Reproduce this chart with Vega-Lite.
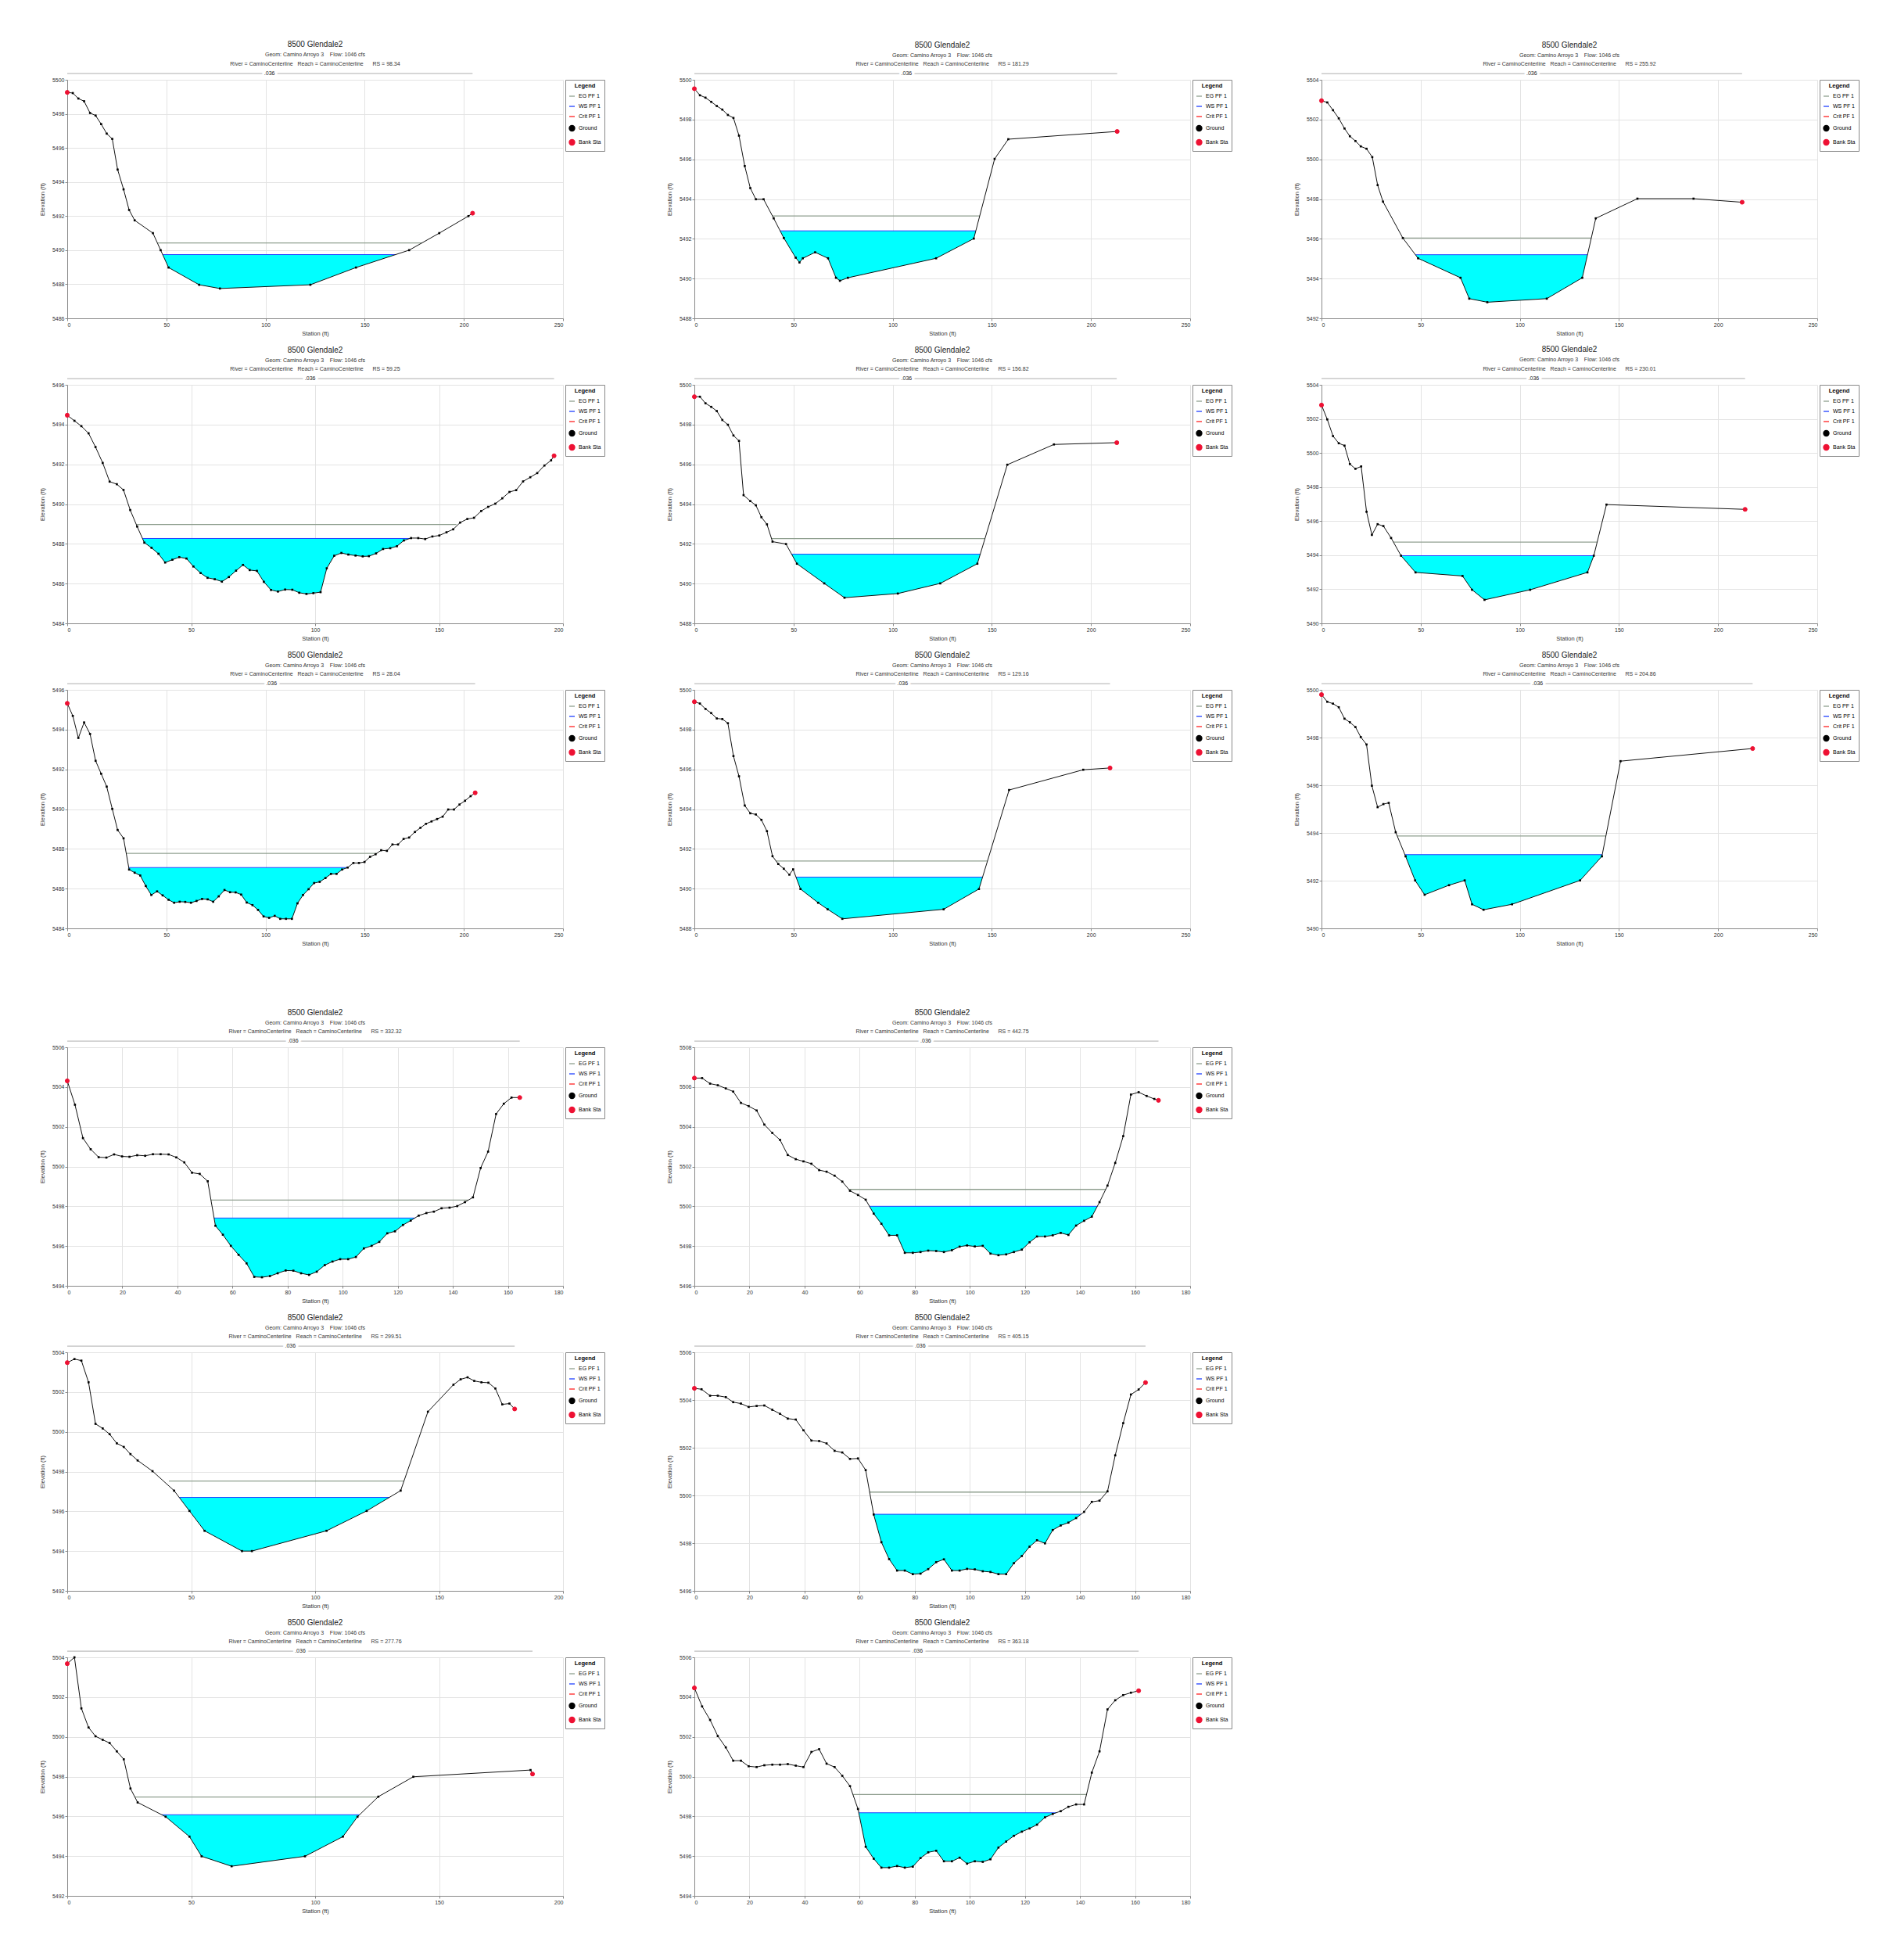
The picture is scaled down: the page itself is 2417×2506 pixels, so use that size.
{
"$schema": "https://vega.github.io/schema/vega-lite/v6.json",
"background": "white",
"padding": {"left": 50, "top": 52, "right": 5, "bottom": 5},
"config": {
 "font": "Liberation Sans",
 "view": {"stroke": null},
 "title": {"fontSize": 10, "fontWeight": "normal", "color": "#222", "subtitleFontSize": 7, "subtitleColor": "#333", "subtitleLineHeight": 11.5, "subtitlePadding": 4, "anchor": "middle", "frame": "group", "offset": 5},
 "axis": {"labelFontSize": 7, "titleFontSize": 7.5, "titleFontWeight": "normal", "labelColor": "#333", "titleColor": "#333", "domainColor": "#888", "tickColor": "#888", "tickSize": 3, "gridColor": "#e3e3e3", "labelPadding": 1, "titlePadding": 4},
 "axisY": {"titlePadding": 8},
 "legend": {"orient": "right", "offset": 3, "padding": 4, "strokeColor": "#888", "fillColor": "white", "titleFontSize": 7.5, "titleFontWeight": "bold", "labelFontSize": 7, "rowPadding": 5, "titleAnchor": "middle", "symbolSize": 50, "symbolStrokeWidth": 1.3}
},
"datasets": {
"g": [
{"p":"A","x":0,"y":5499.26},{"p":"A","x":2.8,"y":5499.22},{"p":"A","x":5.6,"y":5498.9},{"p":"A","x":8.5,"y":5498.74},{"p":"A","x":11.5,"y":5498.05},{"p":"A","x":14.3,"y":5497.9},{"p":"A","x":17.1,"y":5497.4},{"p":"A","x":19.9,"y":5496.84},{"p":"A","x":22.7,"y":5496.53},{"p":"A","x":25.4,"y":5494.73},{"p":"A","x":28.4,"y":5493.57},{"p":"A","x":31.2,"y":5492.36},{"p":"A","x":34,"y":5491.75},{"p":"A","x":43.2,"y":5491},{"p":"A","x":47.1,"y":5490},{"p":"A","x":51.1,"y":5488.98},{"p":"A","x":66.5,"y":5487.97},{"p":"A","x":77,"y":5487.75},{"p":"A","x":122.6,"y":5487.97},{"p":"A","x":145.6,"y":5488.98},{"p":"A","x":172.4,"y":5490},{"p":"A","x":187.6,"y":5491},{"p":"A","x":202.3,"y":5492},{"p":"A","x":204.4,"y":5492.17},
{"p":"B","x":0,"y":5494.47},{"p":"B","x":2.9,"y":5494.19},{"p":"B","x":5.7,"y":5493.92},{"p":"B","x":8.6,"y":5493.56},{"p":"B","x":11.4,"y":5492.87},{"p":"B","x":14.3,"y":5492.07},{"p":"B","x":17.1,"y":5491.13},{"p":"B","x":20,"y":5491},{"p":"B","x":22.7,"y":5490.71},{"p":"B","x":25.4,"y":5489.7},{"p":"B","x":28.2,"y":5488.87},{"p":"B","x":31.1,"y":5488.06},{"p":"B","x":34,"y":5487.8},{"p":"B","x":36.8,"y":5487.5},{"p":"B","x":39.5,"y":5487.06},{"p":"B","x":42.4,"y":5487.2},{"p":"B","x":45.2,"y":5487.33},{"p":"B","x":48.1,"y":5487.26},{"p":"B","x":50.9,"y":5486.86},{"p":"B","x":53.8,"y":5486.53},{"p":"B","x":56.6,"y":5486.29},{"p":"B","x":59.5,"y":5486.22},{"p":"B","x":62.4,"y":5486.1},{"p":"B","x":65.2,"y":5486.33},{"p":"B","x":68.1,"y":5486.65},{"p":"B","x":70.9,"y":5486.94},{"p":"B","x":73.6,"y":5486.68},{"p":"B","x":76.5,"y":5486.64},{"p":"B","x":79.3,"y":5486.09},{"p":"B","x":82.2,"y":5485.68},{"p":"B","x":85,"y":5485.6},{"p":"B","x":87.9,"y":5485.7},{"p":"B","x":90.8,"y":5485.69},{"p":"B","x":93.6,"y":5485.54},{"p":"B","x":96.5,"y":5485.48},{"p":"B","x":99.3,"y":5485.52},{"p":"B","x":102.2,"y":5485.57},{"p":"B","x":104.7,"y":5486.77},{"p":"B","x":107.7,"y":5487.4},{"p":"B","x":110.6,"y":5487.54},{"p":"B","x":113.4,"y":5487.46},{"p":"B","x":116.3,"y":5487.41},{"p":"B","x":119.2,"y":5487.37},{"p":"B","x":121.7,"y":5487.38},{"p":"B","x":124.6,"y":5487.52},{"p":"B","x":127.4,"y":5487.74},{"p":"B","x":130.3,"y":5487.78},{"p":"B","x":133,"y":5487.88},{"p":"B","x":135.8,"y":5488.17},{"p":"B","x":138.7,"y":5488.29},{"p":"B","x":141.6,"y":5488.29},{"p":"B","x":144.4,"y":5488.24},{"p":"B","x":147.3,"y":5488.37},{"p":"B","x":150.1,"y":5488.42},{"p":"B","x":153,"y":5488.58},{"p":"B","x":155.7,"y":5488.73},{"p":"B","x":158.5,"y":5489.07},{"p":"B","x":161.4,"y":5489.25},{"p":"B","x":164.1,"y":5489.31},{"p":"B","x":167,"y":5489.65},{"p":"B","x":169.8,"y":5489.86},{"p":"B","x":172.7,"y":5490.02},{"p":"B","x":175.5,"y":5490.29},{"p":"B","x":178.4,"y":5490.61},{"p":"B","x":181.1,"y":5490.7},{"p":"B","x":183.9,"y":5491.14},{"p":"B","x":186.8,"y":5491.35},{"p":"B","x":189.6,"y":5491.56},{"p":"B","x":192.5,"y":5491.94},{"p":"B","x":195.2,"y":5492.2},{"p":"B","x":196.4,"y":5492.43},
{"p":"C","x":0,"y":5495.32},{"p":"C","x":2.8,"y":5494.69},{"p":"C","x":5.6,"y":5493.58},{"p":"C","x":8.5,"y":5494.36},{"p":"C","x":11.5,"y":5493.78},{"p":"C","x":14.3,"y":5492.43},{"p":"C","x":17.1,"y":5491.78},{"p":"C","x":19.9,"y":5491.13},{"p":"C","x":22.7,"y":5490.01},{"p":"C","x":25.4,"y":5488.95},{"p":"C","x":28.4,"y":5488.53},{"p":"C","x":31.2,"y":5486.96},{"p":"C","x":34,"y":5486.8},{"p":"C","x":36.8,"y":5486.66},{"p":"C","x":39.6,"y":5486.13},{"p":"C","x":42.4,"y":5485.68},{"p":"C","x":45.3,"y":5485.86},{"p":"C","x":48.1,"y":5485.66},{"p":"C","x":51.1,"y":5485.44},{"p":"C","x":53.9,"y":5485.29},{"p":"C","x":56.7,"y":5485.34},{"p":"C","x":59.5,"y":5485.33},{"p":"C","x":62.4,"y":5485.29},{"p":"C","x":65.2,"y":5485.38},{"p":"C","x":68,"y":5485.48},{"p":"C","x":70.8,"y":5485.46},{"p":"C","x":73.6,"y":5485.34},{"p":"C","x":76.4,"y":5485.61},{"p":"C","x":79.3,"y":5485.93},{"p":"C","x":82.1,"y":5485.82},{"p":"C","x":84.9,"y":5485.81},{"p":"C","x":87.7,"y":5485.7},{"p":"C","x":90.5,"y":5485.3},{"p":"C","x":93.4,"y":5485.17},{"p":"C","x":96.2,"y":5484.93},{"p":"C","x":99,"y":5484.6},{"p":"C","x":101.8,"y":5484.53},{"p":"C","x":104.6,"y":5484.63},{"p":"C","x":107.4,"y":5484.48},{"p":"C","x":110.3,"y":5484.48},{"p":"C","x":113.3,"y":5484.48},{"p":"C","x":116.1,"y":5485.26},{"p":"C","x":118.9,"y":5485.68},{"p":"C","x":121.7,"y":5485.97},{"p":"C","x":124.5,"y":5486.28},{"p":"C","x":127.3,"y":5486.34},{"p":"C","x":130.2,"y":5486.53},{"p":"C","x":133,"y":5486.74},{"p":"C","x":135.8,"y":5486.74},{"p":"C","x":138.6,"y":5486.96},{"p":"C","x":141.4,"y":5487.06},{"p":"C","x":144.3,"y":5487.29},{"p":"C","x":147.1,"y":5487.29},{"p":"C","x":149.9,"y":5487.34},{"p":"C","x":152.7,"y":5487.6},{"p":"C","x":155.5,"y":5487.73},{"p":"C","x":158.3,"y":5487.93},{"p":"C","x":161.2,"y":5487.9},{"p":"C","x":164,"y":5488.22},{"p":"C","x":166.8,"y":5488.22},{"p":"C","x":169.6,"y":5488.5},{"p":"C","x":172.4,"y":5488.57},{"p":"C","x":175.3,"y":5488.85},{"p":"C","x":178.1,"y":5489.06},{"p":"C","x":180.9,"y":5489.26},{"p":"C","x":183.7,"y":5489.38},{"p":"C","x":186.5,"y":5489.5},{"p":"C","x":189.3,"y":5489.62},{"p":"C","x":192.1,"y":5489.98},{"p":"C","x":195,"y":5489.98},{"p":"C","x":197.8,"y":5490.23},{"p":"C","x":200.6,"y":5490.42},{"p":"C","x":203.4,"y":5490.65},{"p":"C","x":205.7,"y":5490.82},
{"p":"D","x":0,"y":5499.55},{"p":"D","x":2.8,"y":5499.22},{"p":"D","x":5.6,"y":5499.1},{"p":"D","x":8.5,"y":5498.89},{"p":"D","x":11.3,"y":5498.68},{"p":"D","x":14.1,"y":5498.5},{"p":"D","x":16.9,"y":5498.23},{"p":"D","x":19.7,"y":5498.08},{"p":"D","x":22.5,"y":5497.19},{"p":"D","x":25.4,"y":5495.66},{"p":"D","x":28.2,"y":5494.55},{"p":"D","x":31,"y":5493.99},{"p":"D","x":34.9,"y":5493.99},{"p":"D","x":40,"y":5493.03},{"p":"D","x":45.1,"y":5492.04},{"p":"D","x":51.1,"y":5491.05},{"p":"D","x":53,"y":5490.81},{"p":"D","x":54.7,"y":5491.02},{"p":"D","x":60.9,"y":5491.32},{"p":"D","x":67.4,"y":5491.02},{"p":"D","x":71.4,"y":5490.04},{"p":"D","x":73.4,"y":5489.89},{"p":"D","x":77.4,"y":5490.04},{"p":"D","x":121.9,"y":5491.02},{"p":"D","x":140.9,"y":5492.01},{"p":"D","x":151.4,"y":5496.02},{"p":"D","x":158.3,"y":5497.01},{"p":"D","x":213.2,"y":5497.4},
{"p":"E","x":0,"y":5499.4},{"p":"E","x":2.8,"y":5499.4},{"p":"E","x":5.6,"y":5499.07},{"p":"E","x":8.5,"y":5498.89},{"p":"E","x":11.3,"y":5498.68},{"p":"E","x":14.1,"y":5498.23},{"p":"E","x":16.9,"y":5497.99},{"p":"E","x":19.7,"y":5497.45},{"p":"E","x":22.5,"y":5497.18},{"p":"E","x":24.8,"y":5494.45},{"p":"E","x":28.2,"y":5494.15},{"p":"E","x":31,"y":5493.94},{"p":"E","x":33.8,"y":5493.34},{"p":"E","x":36.6,"y":5492.98},{"p":"E","x":39.4,"y":5492.11},{"p":"E","x":46.2,"y":5491.99},{"p":"E","x":51.7,"y":5491},{"p":"E","x":65.5,"y":5490.01},{"p":"E","x":75.7,"y":5489.29},{"p":"E","x":102.6,"y":5489.5},{"p":"E","x":124,"y":5490.01},{"p":"E","x":142.7,"y":5491},{"p":"E","x":157.8,"y":5495.98},{"p":"E","x":181.3,"y":5497},{"p":"E","x":213,"y":5497.09},
{"p":"F","x":0,"y":5499.4},{"p":"F","x":2.8,"y":5499.31},{"p":"F","x":5.6,"y":5499.04},{"p":"F","x":8.5,"y":5498.83},{"p":"F","x":11.3,"y":5498.56},{"p":"F","x":14.1,"y":5498.53},{"p":"F","x":16.9,"y":5498.32},{"p":"F","x":19.7,"y":5496.67},{"p":"F","x":22.5,"y":5495.65},{"p":"F","x":25.4,"y":5494.18},{"p":"F","x":28.2,"y":5493.79},{"p":"F","x":31,"y":5493.73},{"p":"F","x":33.8,"y":5493.46},{"p":"F","x":36.6,"y":5492.89},{"p":"F","x":39.4,"y":5491.63},{"p":"F","x":42.3,"y":5491.24},{"p":"F","x":45.1,"y":5491},{"p":"F","x":47.9,"y":5490.7},{"p":"F","x":49.8,"y":5490.97},{"p":"F","x":53.5,"y":5489.98},{"p":"F","x":62.4,"y":5489.29},{"p":"F","x":67.2,"y":5488.96},{"p":"F","x":74.6,"y":5488.48},{"p":"F","x":125.7,"y":5488.96},{"p":"F","x":143.5,"y":5489.98},{"p":"F","x":158.7,"y":5494.96},{"p":"F","x":196.1,"y":5495.98},{"p":"F","x":209.6,"y":5496.07},
{"p":"G","x":0,"y":5502.95},{"p":"G","x":2.9,"y":5502.86},{"p":"G","x":5.8,"y":5502.47},{"p":"G","x":8.7,"y":5502.06},{"p":"G","x":11.6,"y":5501.55},{"p":"G","x":14.3,"y":5501.16},{"p":"G","x":17.1,"y":5500.92},{"p":"G","x":19.8,"y":5500.65},{"p":"G","x":22.7,"y":5500.53},{"p":"G","x":25.6,"y":5500.11},{"p":"G","x":28.3,"y":5498.7},{"p":"G","x":31,"y":5497.87},{"p":"G","x":41,"y":5496.04},{"p":"G","x":48.7,"y":5495.02},{"p":"G","x":70.1,"y":5494.04},{"p":"G","x":74.5,"y":5492.99},{"p":"G","x":83.6,"y":5492.81},{"p":"G","x":113.6,"y":5492.99},{"p":"G","x":131.5,"y":5494.04},{"p":"G","x":138.3,"y":5497.03},{"p":"G","x":159.3,"y":5498.02},{"p":"G","x":187.6,"y":5498.02},{"p":"G","x":212.1,"y":5497.84},
{"p":"H","x":0,"y":5502.81},{"p":"H","x":2.9,"y":5501.97},{"p":"H","x":5.8,"y":5500.99},{"p":"H","x":8.7,"y":5500.57},{"p":"H","x":11.6,"y":5500.43},{"p":"H","x":14.3,"y":5499.35},{"p":"H","x":17.1,"y":5499.07},{"p":"H","x":20,"y":5499.21},{"p":"H","x":22.7,"y":5496.55},{"p":"H","x":25.4,"y":5495.19},{"p":"H","x":28.3,"y":5495.82},{"p":"H","x":31.2,"y":5495.71},{"p":"H","x":35.1,"y":5495.01},{"p":"H","x":40.1,"y":5493.97},{"p":"H","x":47.4,"y":5492.99},{"p":"H","x":71.1,"y":5492.78},{"p":"H","x":75.9,"y":5491.97},{"p":"H","x":82.2,"y":5491.38},{"p":"H","x":105.2,"y":5491.97},{"p":"H","x":134.1,"y":5492.99},{"p":"H","x":137.3,"y":5493.97},{"p":"H","x":143.7,"y":5496.97},{"p":"H","x":213.6,"y":5496.69},
{"p":"I","x":0,"y":5499.8},{"p":"I","x":2.9,"y":5499.5},{"p":"I","x":5.8,"y":5499.42},{"p":"I","x":8.7,"y":5499.27},{"p":"I","x":11.6,"y":5498.79},{"p":"I","x":14.3,"y":5498.64},{"p":"I","x":17.1,"y":5498.44},{"p":"I","x":19.8,"y":5498.02},{"p":"I","x":22.7,"y":5497.71},{"p":"I","x":25.4,"y":5495.98},{"p":"I","x":28.3,"y":5495.08},{"p":"I","x":31.2,"y":5495.21},{"p":"I","x":33.9,"y":5495.26},{"p":"I","x":37.4,"y":5494.03},{"p":"I","x":42.4,"y":5493.02},{"p":"I","x":47.2,"y":5492.01},{"p":"I","x":52,"y":5491.41},{"p":"I","x":64.3,"y":5491.81},{"p":"I","x":72.2,"y":5492.01},{"p":"I","x":75.9,"y":5491.01},{"p":"I","x":81.7,"y":5490.78},{"p":"I","x":96.1,"y":5491.01},{"p":"I","x":130.4,"y":5492.01},{"p":"I","x":141.4,"y":5493.02},{"p":"I","x":150.8,"y":5497.01},{"p":"I","x":217.4,"y":5497.54},
{"p":"J","x":0,"y":5504.31},{"p":"J","x":2.8,"y":5503.11},{"p":"J","x":5.7,"y":5501.43},{"p":"J","x":8.5,"y":5500.87},{"p":"J","x":11.4,"y":5500.47},{"p":"J","x":14.2,"y":5500.45},{"p":"J","x":17,"y":5500.61},{"p":"J","x":19.9,"y":5500.51},{"p":"J","x":22.6,"y":5500.49},{"p":"J","x":25.4,"y":5500.57},{"p":"J","x":28.3,"y":5500.54},{"p":"J","x":31.1,"y":5500.62},{"p":"J","x":33.9,"y":5500.62},{"p":"J","x":36.8,"y":5500.61},{"p":"J","x":39.6,"y":5500.46},{"p":"J","x":42.5,"y":5500.21},{"p":"J","x":45.3,"y":5499.69},{"p":"J","x":48.1,"y":5499.63},{"p":"J","x":51,"y":5499.26},{"p":"J","x":53.8,"y":5497.02},{"p":"J","x":56.5,"y":5496.57},{"p":"J","x":59.4,"y":5496.01},{"p":"J","x":62.2,"y":5495.56},{"p":"J","x":65.1,"y":5495.13},{"p":"J","x":67.9,"y":5494.45},{"p":"J","x":70.7,"y":5494.43},{"p":"J","x":73.6,"y":5494.49},{"p":"J","x":76.4,"y":5494.63},{"p":"J","x":79.3,"y":5494.77},{"p":"J","x":82.1,"y":5494.76},{"p":"J","x":84.9,"y":5494.63},{"p":"J","x":87.8,"y":5494.55},{"p":"J","x":90.6,"y":5494.71},{"p":"J","x":93.5,"y":5495.04},{"p":"J","x":96.3,"y":5495.22},{"p":"J","x":99.1,"y":5495.34},{"p":"J","x":102,"y":5495.34},{"p":"J","x":104.8,"y":5495.45},{"p":"J","x":107.7,"y":5495.88},{"p":"J","x":110.5,"y":5496.01},{"p":"J","x":113.3,"y":5496.21},{"p":"J","x":116.2,"y":5496.64},{"p":"J","x":119,"y":5496.74},{"p":"J","x":121.9,"y":5497.06},{"p":"J","x":124.7,"y":5497.28},{"p":"J","x":127.6,"y":5497.53},{"p":"J","x":130.4,"y":5497.66},{"p":"J","x":133.1,"y":5497.73},{"p":"J","x":135.9,"y":5497.9},{"p":"J","x":138.8,"y":5497.93},{"p":"J","x":141.6,"y":5498.01},{"p":"J","x":144.4,"y":5498.21},{"p":"J","x":147.3,"y":5498.45},{"p":"J","x":150.1,"y":5499.93},{"p":"J","x":152.8,"y":5500.75},{"p":"J","x":155.7,"y":5502.64},{"p":"J","x":158.5,"y":5503.16},{"p":"J","x":161.3,"y":5503.47},{"p":"J","x":164.3,"y":5503.47},
{"p":"K","x":0,"y":5503.48},{"p":"K","x":2.9,"y":5503.66},{"p":"K","x":5.7,"y":5503.58},{"p":"K","x":8.6,"y":5502.49},{"p":"K","x":11.4,"y":5500.4},{"p":"K","x":14.3,"y":5500.17},{"p":"K","x":17.1,"y":5499.88},{"p":"K","x":20,"y":5499.42},{"p":"K","x":22.8,"y":5499.24},{"p":"K","x":25.5,"y":5498.88},{"p":"K","x":28.4,"y":5498.56},{"p":"K","x":34.4,"y":5498.02},{"p":"K","x":43.1,"y":5497.04},{"p":"K","x":49.3,"y":5496.02},{"p":"K","x":55.4,"y":5495.02},{"p":"K","x":70.5,"y":5494},{"p":"K","x":74.5,"y":5494},{"p":"K","x":104.6,"y":5495.02},{"p":"K","x":120.8,"y":5496.02},{"p":"K","x":134.5,"y":5497.04},{"p":"K","x":145.5,"y":5501.01},{"p":"K","x":155.8,"y":5502.37},{"p":"K","x":158.7,"y":5502.64},{"p":"K","x":161.5,"y":5502.74},{"p":"K","x":164.2,"y":5502.56},{"p":"K","x":167.1,"y":5502.49},{"p":"K","x":169.9,"y":5502.47},{"p":"K","x":172.7,"y":5502.18},{"p":"K","x":175.5,"y":5501.38},{"p":"K","x":178.4,"y":5501.42},{"p":"K","x":180.5,"y":5501.15},
{"p":"L","x":0,"y":5503.68},{"p":"L","x":2.9,"y":5504},{"p":"L","x":5.7,"y":5501.43},{"p":"L","x":8.6,"y":5500.47},{"p":"L","x":11.4,"y":5500.03},{"p":"L","x":14.3,"y":5499.85},{"p":"L","x":17.1,"y":5499.69},{"p":"L","x":20,"y":5499.27},{"p":"L","x":22.8,"y":5498.87},{"p":"L","x":25.5,"y":5497.4},{"p":"L","x":28.4,"y":5496.7},{"p":"L","x":39.7,"y":5495.98},{"p":"L","x":49.3,"y":5494.98},{"p":"L","x":54.2,"y":5493.99},{"p":"L","x":66.3,"y":5493.49},{"p":"L","x":95.9,"y":5493.99},{"p":"L","x":111.2,"y":5494.98},{"p":"L","x":117.1,"y":5495.98},{"p":"L","x":125.5,"y":5496.99},{"p":"L","x":139.6,"y":5497.99},{"p":"L","x":186.9,"y":5498.33},{"p":"L","x":187.7,"y":5498.13},
{"p":"M","x":0,"y":5506.45},{"p":"M","x":2.8,"y":5506.45},{"p":"M","x":5.7,"y":5506.17},{"p":"M","x":8.5,"y":5506.09},{"p":"M","x":11.4,"y":5505.93},{"p":"M","x":14.1,"y":5505.77},{"p":"M","x":16.9,"y":5505.2},{"p":"M","x":19.7,"y":5505.04},{"p":"M","x":22.6,"y":5504.82},{"p":"M","x":25.4,"y":5504.11},{"p":"M","x":28.3,"y":5503.69},{"p":"M","x":31.1,"y":5503.34},{"p":"M","x":33.9,"y":5502.58},{"p":"M","x":36.8,"y":5502.37},{"p":"M","x":39.6,"y":5502.26},{"p":"M","x":42.5,"y":5502.14},{"p":"M","x":45.3,"y":5501.82},{"p":"M","x":48,"y":5501.74},{"p":"M","x":50.9,"y":5501.54},{"p":"M","x":53.7,"y":5501.24},{"p":"M","x":56.5,"y":5500.78},{"p":"M","x":59.4,"y":5500.57},{"p":"M","x":62.2,"y":5500.33},{"p":"M","x":65.1,"y":5499.63},{"p":"M","x":67.9,"y":5499.12},{"p":"M","x":70.7,"y":5498.54},{"p":"M","x":73.6,"y":5498.54},{"p":"M","x":76.4,"y":5497.66},{"p":"M","x":79.3,"y":5497.66},{"p":"M","x":82.1,"y":5497.7},{"p":"M","x":84.9,"y":5497.77},{"p":"M","x":87.8,"y":5497.75},{"p":"M","x":90.6,"y":5497.7},{"p":"M","x":93.5,"y":5497.79},{"p":"M","x":96.3,"y":5497.97},{"p":"M","x":99,"y":5498.03},{"p":"M","x":101.8,"y":5497.98},{"p":"M","x":104.7,"y":5498.01},{"p":"M","x":107.5,"y":5497.62},{"p":"M","x":110.4,"y":5497.54},{"p":"M","x":113.2,"y":5497.58},{"p":"M","x":116,"y":5497.7},{"p":"M","x":118.9,"y":5497.82},{"p":"M","x":121.7,"y":5498.19},{"p":"M","x":124.4,"y":5498.48},{"p":"M","x":127.3,"y":5498.48},{"p":"M","x":130.1,"y":5498.54},{"p":"M","x":133,"y":5498.66},{"p":"M","x":135.8,"y":5498.56},{"p":"M","x":138.6,"y":5499.03},{"p":"M","x":141.5,"y":5499.27},{"p":"M","x":144.3,"y":5499.48},{"p":"M","x":147.1,"y":5500.21},{"p":"M","x":150,"y":5501.04},{"p":"M","x":152.8,"y":5502.18},{"p":"M","x":155.7,"y":5503.53},{"p":"M","x":158.5,"y":5505.62},{"p":"M","x":161.3,"y":5505.74},{"p":"M","x":164.2,"y":5505.55},{"p":"M","x":167,"y":5505.4},{"p":"M","x":168.5,"y":5505.33},
{"p":"N","x":0,"y":5504.49},{"p":"N","x":2.6,"y":5504.45},{"p":"N","x":5.7,"y":5504.18},{"p":"N","x":8.5,"y":5504.18},{"p":"N","x":11.4,"y":5504.12},{"p":"N","x":14.1,"y":5503.91},{"p":"N","x":16.9,"y":5503.85},{"p":"N","x":19.7,"y":5503.71},{"p":"N","x":22.6,"y":5503.75},{"p":"N","x":25.4,"y":5503.77},{"p":"N","x":28.3,"y":5503.59},{"p":"N","x":31.1,"y":5503.42},{"p":"N","x":33.9,"y":5503.22},{"p":"N","x":36.8,"y":5503.18},{"p":"N","x":39.6,"y":5502.73},{"p":"N","x":42.5,"y":5502.3},{"p":"N","x":45.3,"y":5502.28},{"p":"N","x":48,"y":5502.18},{"p":"N","x":50.9,"y":5501.87},{"p":"N","x":53.7,"y":5501.8},{"p":"N","x":56.5,"y":5501.53},{"p":"N","x":59.4,"y":5501.55},{"p":"N","x":62.2,"y":5501.06},{"p":"N","x":65.1,"y":5499.2},{"p":"N","x":67.9,"y":5498.04},{"p":"N","x":70.7,"y":5497.33},{"p":"N","x":73.6,"y":5496.85},{"p":"N","x":76.4,"y":5496.85},{"p":"N","x":79.3,"y":5496.7},{"p":"N","x":82.1,"y":5496.72},{"p":"N","x":84.9,"y":5496.91},{"p":"N","x":87.8,"y":5497.2},{"p":"N","x":90.6,"y":5497.32},{"p":"N","x":93.5,"y":5496.85},{"p":"N","x":96.3,"y":5496.85},{"p":"N","x":99,"y":5496.92},{"p":"N","x":101.8,"y":5496.9},{"p":"N","x":104.7,"y":5496.82},{"p":"N","x":107.5,"y":5496.79},{"p":"N","x":110.4,"y":5496.7},{"p":"N","x":113.2,"y":5496.7},{"p":"N","x":116,"y":5497.16},{"p":"N","x":118.9,"y":5497.46},{"p":"N","x":121.7,"y":5497.85},{"p":"N","x":124.4,"y":5498.12},{"p":"N","x":127.3,"y":5497.99},{"p":"N","x":130.1,"y":5498.55},{"p":"N","x":133,"y":5498.74},{"p":"N","x":135.8,"y":5498.86},{"p":"N","x":138.6,"y":5499.05},{"p":"N","x":141.5,"y":5499.31},{"p":"N","x":144.3,"y":5499.73},{"p":"N","x":147.1,"y":5499.78},{"p":"N","x":150,"y":5500.17},{"p":"N","x":152.8,"y":5501.68},{"p":"N","x":155.7,"y":5503.03},{"p":"N","x":158.5,"y":5504.23},{"p":"N","x":161.3,"y":5504.44},{"p":"N","x":163.8,"y":5504.73},
{"p":"O","x":0,"y":5504.46},{"p":"O","x":2.8,"y":5503.53},{"p":"O","x":5.7,"y":5502.85},{"p":"O","x":8.5,"y":5502.04},{"p":"O","x":11.4,"y":5501.47},{"p":"O","x":14.1,"y":5500.8},{"p":"O","x":16.9,"y":5500.8},{"p":"O","x":19.7,"y":5500.52},{"p":"O","x":22.6,"y":5500.48},{"p":"O","x":25.4,"y":5500.57},{"p":"O","x":28.3,"y":5500.6},{"p":"O","x":31.1,"y":5500.6},{"p":"O","x":33.9,"y":5500.63},{"p":"O","x":36.8,"y":5500.55},{"p":"O","x":39.6,"y":5500.48},{"p":"O","x":42.5,"y":5501.24},{"p":"O","x":45.3,"y":5501.38},{"p":"O","x":48,"y":5500.65},{"p":"O","x":50.9,"y":5500.48},{"p":"O","x":53.7,"y":5500.04},{"p":"O","x":56.5,"y":5499.52},{"p":"O","x":59.4,"y":5498.37},{"p":"O","x":62.2,"y":5496.47},{"p":"O","x":65.1,"y":5495.87},{"p":"O","x":67.9,"y":5495.42},{"p":"O","x":70.7,"y":5495.42},{"p":"O","x":73.6,"y":5495.5},{"p":"O","x":76.4,"y":5495.42},{"p":"O","x":79.3,"y":5495.47},{"p":"O","x":82.1,"y":5495.9},{"p":"O","x":84.9,"y":5496.19},{"p":"O","x":87.8,"y":5496.27},{"p":"O","x":90.6,"y":5495.74},{"p":"O","x":93.5,"y":5495.74},{"p":"O","x":96.3,"y":5495.92},{"p":"O","x":99,"y":5495.62},{"p":"O","x":101.8,"y":5495.74},{"p":"O","x":104.7,"y":5495.71},{"p":"O","x":107.5,"y":5495.84},{"p":"O","x":110.4,"y":5496.43},{"p":"O","x":113.2,"y":5496.73},{"p":"O","x":116,"y":5497.02},{"p":"O","x":118.9,"y":5497.23},{"p":"O","x":121.7,"y":5497.39},{"p":"O","x":124.4,"y":5497.58},{"p":"O","x":127.3,"y":5497.95},{"p":"O","x":130.1,"y":5498.12},{"p":"O","x":133,"y":5498.26},{"p":"O","x":135.8,"y":5498.48},{"p":"O","x":138.6,"y":5498.6},{"p":"O","x":141.5,"y":5498.6},{"p":"O","x":144.3,"y":5500.2},{"p":"O","x":147.1,"y":5501.27},{"p":"O","x":150,"y":5503.38},{"p":"O","x":152.8,"y":5503.84},{"p":"O","x":155.7,"y":5504.1},{"p":"O","x":158.5,"y":5504.22},{"p":"O","x":161.3,"y":5504.32}
],
"b": [
{"p":"A","x":0,"y":5499.26,"s":"Bank Sta"},{"p":"A","x":204.4,"y":5492.17,"s":"Bank Sta"},
{"p":"B","x":0,"y":5494.47,"s":"Bank Sta"},{"p":"B","x":196.4,"y":5492.43,"s":"Bank Sta"},
{"p":"C","x":0,"y":5495.32,"s":"Bank Sta"},{"p":"C","x":205.7,"y":5490.82,"s":"Bank Sta"},
{"p":"D","x":0,"y":5499.55,"s":"Bank Sta"},{"p":"D","x":213.2,"y":5497.4,"s":"Bank Sta"},
{"p":"E","x":0,"y":5499.4,"s":"Bank Sta"},{"p":"E","x":213,"y":5497.09,"s":"Bank Sta"},
{"p":"F","x":0,"y":5499.4,"s":"Bank Sta"},{"p":"F","x":209.6,"y":5496.07,"s":"Bank Sta"},
{"p":"G","x":0,"y":5502.95,"s":"Bank Sta"},{"p":"G","x":212.1,"y":5497.84,"s":"Bank Sta"},
{"p":"H","x":0,"y":5502.81,"s":"Bank Sta"},{"p":"H","x":213.6,"y":5496.69,"s":"Bank Sta"},
{"p":"I","x":0,"y":5499.8,"s":"Bank Sta"},{"p":"I","x":217.4,"y":5497.54,"s":"Bank Sta"},
{"p":"J","x":0,"y":5504.31,"s":"Bank Sta"},{"p":"J","x":164.3,"y":5503.47,"s":"Bank Sta"},
{"p":"K","x":0,"y":5503.48,"s":"Bank Sta"},{"p":"K","x":180.5,"y":5501.15,"s":"Bank Sta"},
{"p":"L","x":0,"y":5503.68,"s":"Bank Sta"},{"p":"L","x":187.7,"y":5498.13,"s":"Bank Sta"},
{"p":"M","x":0,"y":5506.45,"s":"Bank Sta"},{"p":"M","x":168.5,"y":5505.33,"s":"Bank Sta"},
{"p":"N","x":0,"y":5504.49,"s":"Bank Sta"},{"p":"N","x":163.8,"y":5504.73,"s":"Bank Sta"},
{"p":"O","x":0,"y":5504.46,"s":"Bank Sta"},{"p":"O","x":161.3,"y":5504.32,"s":"Bank Sta"}
],
"w": [
{"p":"A","x":48.1,"y":5489.74,"g":5489.74},{"p":"A","x":51.1,"y":5489.74,"g":5488.98},{"p":"A","x":66.5,"y":5489.74,"g":5487.97},{"p":"A","x":77,"y":5489.74,"g":5487.75},{"p":"A","x":122.6,"y":5489.74,"g":5487.97},{"p":"A","x":145.6,"y":5489.74,"g":5488.98},{"p":"A","x":165.6,"y":5489.74,"g":5489.74},
{"p":"B","x":30.3,"y":5488.27,"g":5488.27},{"p":"B","x":31.1,"y":5488.27,"g":5488.06},{"p":"B","x":34,"y":5488.27,"g":5487.8},{"p":"B","x":36.8,"y":5488.27,"g":5487.5},{"p":"B","x":39.5,"y":5488.27,"g":5487.06},{"p":"B","x":42.4,"y":5488.27,"g":5487.2},{"p":"B","x":45.2,"y":5488.27,"g":5487.33},{"p":"B","x":48.1,"y":5488.27,"g":5487.26},{"p":"B","x":50.9,"y":5488.27,"g":5486.86},{"p":"B","x":53.8,"y":5488.27,"g":5486.53},{"p":"B","x":56.6,"y":5488.27,"g":5486.29},{"p":"B","x":59.5,"y":5488.27,"g":5486.22},{"p":"B","x":62.4,"y":5488.27,"g":5486.1},{"p":"B","x":65.2,"y":5488.27,"g":5486.33},{"p":"B","x":68.1,"y":5488.27,"g":5486.65},{"p":"B","x":70.9,"y":5488.27,"g":5486.94},{"p":"B","x":73.6,"y":5488.27,"g":5486.68},{"p":"B","x":76.5,"y":5488.27,"g":5486.64},{"p":"B","x":79.3,"y":5488.27,"g":5486.09},{"p":"B","x":82.2,"y":5488.27,"g":5485.68},{"p":"B","x":85,"y":5488.27,"g":5485.6},{"p":"B","x":87.9,"y":5488.27,"g":5485.7},{"p":"B","x":90.8,"y":5488.27,"g":5485.69},{"p":"B","x":93.6,"y":5488.27,"g":5485.54},{"p":"B","x":96.5,"y":5488.27,"g":5485.48},{"p":"B","x":99.3,"y":5488.27,"g":5485.52},{"p":"B","x":102.2,"y":5488.27,"g":5485.57},{"p":"B","x":104.7,"y":5488.27,"g":5486.77},{"p":"B","x":107.7,"y":5488.27,"g":5487.4},{"p":"B","x":110.6,"y":5488.27,"g":5487.54},{"p":"B","x":113.4,"y":5488.27,"g":5487.46},{"p":"B","x":116.3,"y":5488.27,"g":5487.41},{"p":"B","x":119.2,"y":5488.27,"g":5487.37},{"p":"B","x":121.7,"y":5488.27,"g":5487.38},{"p":"B","x":124.6,"y":5488.27,"g":5487.52},{"p":"B","x":127.4,"y":5488.27,"g":5487.74},{"p":"B","x":130.3,"y":5488.27,"g":5487.78},{"p":"B","x":133,"y":5488.27,"g":5487.88},{"p":"B","x":135.8,"y":5488.27,"g":5488.17},{"p":"B","x":138.2,"y":5488.27,"g":5488.27},
{"p":"C","x":31,"y":5487.06,"g":5487.06},{"p":"C","x":31.2,"y":5487.06,"g":5486.96},{"p":"C","x":34,"y":5487.06,"g":5486.8},{"p":"C","x":36.8,"y":5487.06,"g":5486.66},{"p":"C","x":39.6,"y":5487.06,"g":5486.13},{"p":"C","x":42.4,"y":5487.06,"g":5485.68},{"p":"C","x":45.3,"y":5487.06,"g":5485.86},{"p":"C","x":48.1,"y":5487.06,"g":5485.66},{"p":"C","x":51.1,"y":5487.06,"g":5485.44},{"p":"C","x":53.9,"y":5487.06,"g":5485.29},{"p":"C","x":56.7,"y":5487.06,"g":5485.34},{"p":"C","x":59.5,"y":5487.06,"g":5485.33},{"p":"C","x":62.4,"y":5487.06,"g":5485.29},{"p":"C","x":65.2,"y":5487.06,"g":5485.38},{"p":"C","x":68,"y":5487.06,"g":5485.48},{"p":"C","x":70.8,"y":5487.06,"g":5485.46},{"p":"C","x":73.6,"y":5487.06,"g":5485.34},{"p":"C","x":76.4,"y":5487.06,"g":5485.61},{"p":"C","x":79.3,"y":5487.06,"g":5485.93},{"p":"C","x":82.1,"y":5487.06,"g":5485.82},{"p":"C","x":84.9,"y":5487.06,"g":5485.81},{"p":"C","x":87.7,"y":5487.06,"g":5485.7},{"p":"C","x":90.5,"y":5487.06,"g":5485.3},{"p":"C","x":93.4,"y":5487.06,"g":5485.17},{"p":"C","x":96.2,"y":5487.06,"g":5484.93},{"p":"C","x":99,"y":5487.06,"g":5484.6},{"p":"C","x":101.8,"y":5487.06,"g":5484.53},{"p":"C","x":104.6,"y":5487.06,"g":5484.63},{"p":"C","x":107.4,"y":5487.06,"g":5484.48},{"p":"C","x":110.3,"y":5487.06,"g":5484.48},{"p":"C","x":113.3,"y":5487.06,"g":5484.48},{"p":"C","x":116.1,"y":5487.06,"g":5485.26},{"p":"C","x":118.9,"y":5487.06,"g":5485.68},{"p":"C","x":121.7,"y":5487.06,"g":5485.97},{"p":"C","x":124.5,"y":5487.06,"g":5486.28},{"p":"C","x":127.3,"y":5487.06,"g":5486.34},{"p":"C","x":130.2,"y":5487.06,"g":5486.53},{"p":"C","x":133,"y":5487.06,"g":5486.74},{"p":"C","x":135.8,"y":5487.06,"g":5486.74},{"p":"C","x":138.6,"y":5487.06,"g":5486.96},{"p":"C","x":141.4,"y":5487.06,"g":5487.06},
{"p":"D","x":43.2,"y":5492.4,"g":5492.4},{"p":"D","x":45.1,"y":5492.4,"g":5492.04},{"p":"D","x":51.1,"y":5492.4,"g":5491.05},{"p":"D","x":53,"y":5492.4,"g":5490.81},{"p":"D","x":54.7,"y":5492.4,"g":5491.02},{"p":"D","x":60.9,"y":5492.4,"g":5491.32},{"p":"D","x":67.4,"y":5492.4,"g":5491.02},{"p":"D","x":71.4,"y":5492.4,"g":5490.04},{"p":"D","x":73.4,"y":5492.4,"g":5489.89},{"p":"D","x":77.4,"y":5492.4,"g":5490.04},{"p":"D","x":121.9,"y":5492.4,"g":5491.02},{"p":"D","x":140.9,"y":5492.4,"g":5492.01},{"p":"D","x":141.9,"y":5492.4,"g":5492.4},
{"p":"E","x":49,"y":5491.48,"g":5491.48},{"p":"E","x":51.7,"y":5491.48,"g":5491},{"p":"E","x":65.5,"y":5491.48,"g":5490.01},{"p":"E","x":75.7,"y":5491.48,"g":5489.29},{"p":"E","x":102.6,"y":5491.48,"g":5489.5},{"p":"E","x":124,"y":5491.48,"g":5490.01},{"p":"E","x":142.7,"y":5491.48,"g":5491},{"p":"E","x":144.2,"y":5491.48,"g":5491.48},
{"p":"F","x":51.2,"y":5490.58,"g":5490.58},{"p":"F","x":53.5,"y":5490.58,"g":5489.98},{"p":"F","x":62.4,"y":5490.58,"g":5489.29},{"p":"F","x":67.2,"y":5490.58,"g":5488.96},{"p":"F","x":74.6,"y":5490.58,"g":5488.48},{"p":"F","x":125.7,"y":5490.58,"g":5488.96},{"p":"F","x":143.5,"y":5490.58,"g":5489.98},{"p":"F","x":145.3,"y":5490.58,"g":5490.58},
{"p":"G","x":47.4,"y":5495.2,"g":5495.2},{"p":"G","x":48.7,"y":5495.2,"g":5495.02},{"p":"G","x":70.1,"y":5495.2,"g":5494.04},{"p":"G","x":74.5,"y":5495.2,"g":5492.99},{"p":"G","x":83.6,"y":5495.2,"g":5492.81},{"p":"G","x":113.6,"y":5495.2,"g":5492.99},{"p":"G","x":131.5,"y":5495.2,"g":5494.04},{"p":"G","x":134.1,"y":5495.2,"g":5495.2},
{"p":"H","x":40.1,"y":5493.97,"g":5493.97},{"p":"H","x":47.4,"y":5493.97,"g":5492.99},{"p":"H","x":71.1,"y":5493.97,"g":5492.78},{"p":"H","x":75.9,"y":5493.97,"g":5491.97},{"p":"H","x":82.2,"y":5493.97,"g":5491.38},{"p":"H","x":105.2,"y":5493.97,"g":5491.97},{"p":"H","x":134.1,"y":5493.97,"g":5492.99},{"p":"H","x":137.3,"y":5493.97,"g":5493.97},
{"p":"I","x":42.1,"y":5493.09,"g":5493.09},{"p":"I","x":42.4,"y":5493.09,"g":5493.02},{"p":"I","x":47.2,"y":5493.09,"g":5492.01},{"p":"I","x":52,"y":5493.09,"g":5491.41},{"p":"I","x":64.3,"y":5493.09,"g":5491.81},{"p":"I","x":72.2,"y":5493.09,"g":5492.01},{"p":"I","x":75.9,"y":5493.09,"g":5491.01},{"p":"I","x":81.7,"y":5493.09,"g":5490.78},{"p":"I","x":96.1,"y":5493.09,"g":5491.01},{"p":"I","x":130.4,"y":5493.09,"g":5492.01},{"p":"I","x":141.4,"y":5493.09,"g":5493.02},{"p":"I","x":141.6,"y":5493.09,"g":5493.09},
{"p":"J","x":53.3,"y":5497.41,"g":5497.41},{"p":"J","x":53.8,"y":5497.41,"g":5497.02},{"p":"J","x":56.5,"y":5497.41,"g":5496.57},{"p":"J","x":59.4,"y":5497.41,"g":5496.01},{"p":"J","x":62.2,"y":5497.41,"g":5495.56},{"p":"J","x":65.1,"y":5497.41,"g":5495.13},{"p":"J","x":67.9,"y":5497.41,"g":5494.45},{"p":"J","x":70.7,"y":5497.41,"g":5494.43},{"p":"J","x":73.6,"y":5497.41,"g":5494.49},{"p":"J","x":76.4,"y":5497.41,"g":5494.63},{"p":"J","x":79.3,"y":5497.41,"g":5494.77},{"p":"J","x":82.1,"y":5497.41,"g":5494.76},{"p":"J","x":84.9,"y":5497.41,"g":5494.63},{"p":"J","x":87.8,"y":5497.41,"g":5494.55},{"p":"J","x":90.6,"y":5497.41,"g":5494.71},{"p":"J","x":93.5,"y":5497.41,"g":5495.04},{"p":"J","x":96.3,"y":5497.41,"g":5495.22},{"p":"J","x":99.1,"y":5497.41,"g":5495.34},{"p":"J","x":102,"y":5497.41,"g":5495.34},{"p":"J","x":104.8,"y":5497.41,"g":5495.45},{"p":"J","x":107.7,"y":5497.41,"g":5495.88},{"p":"J","x":110.5,"y":5497.41,"g":5496.01},{"p":"J","x":113.3,"y":5497.41,"g":5496.21},{"p":"J","x":116.2,"y":5497.41,"g":5496.64},{"p":"J","x":119,"y":5497.41,"g":5496.74},{"p":"J","x":121.9,"y":5497.41,"g":5497.06},{"p":"J","x":124.7,"y":5497.41,"g":5497.28},{"p":"J","x":126.2,"y":5497.41,"g":5497.41},
{"p":"K","x":45.2,"y":5496.7,"g":5496.7},{"p":"K","x":49.3,"y":5496.7,"g":5496.02},{"p":"K","x":55.4,"y":5496.7,"g":5495.02},{"p":"K","x":70.5,"y":5496.7,"g":5494},{"p":"K","x":74.5,"y":5496.7,"g":5494},{"p":"K","x":104.6,"y":5496.7,"g":5495.02},{"p":"K","x":120.8,"y":5496.7,"g":5496.02},{"p":"K","x":130,"y":5496.7,"g":5496.7},
{"p":"L","x":38.1,"y":5496.08,"g":5496.08},{"p":"L","x":39.7,"y":5496.08,"g":5495.98},{"p":"L","x":49.3,"y":5496.08,"g":5494.98},{"p":"L","x":54.2,"y":5496.08,"g":5493.99},{"p":"L","x":66.3,"y":5496.08,"g":5493.49},{"p":"L","x":95.9,"y":5496.08,"g":5493.99},{"p":"L","x":111.2,"y":5496.08,"g":5494.98},{"p":"L","x":117.1,"y":5496.08,"g":5495.98},{"p":"L","x":117.9,"y":5496.08,"g":5496.08},
{"p":"M","x":63.6,"y":5500,"g":5500},{"p":"M","x":65.1,"y":5500,"g":5499.63},{"p":"M","x":67.9,"y":5500,"g":5499.12},{"p":"M","x":70.7,"y":5500,"g":5498.54},{"p":"M","x":73.6,"y":5500,"g":5498.54},{"p":"M","x":76.4,"y":5500,"g":5497.66},{"p":"M","x":79.3,"y":5500,"g":5497.66},{"p":"M","x":82.1,"y":5500,"g":5497.7},{"p":"M","x":84.9,"y":5500,"g":5497.77},{"p":"M","x":87.8,"y":5500,"g":5497.75},{"p":"M","x":90.6,"y":5500,"g":5497.7},{"p":"M","x":93.5,"y":5500,"g":5497.79},{"p":"M","x":96.3,"y":5500,"g":5497.97},{"p":"M","x":99,"y":5500,"g":5498.03},{"p":"M","x":101.8,"y":5500,"g":5497.98},{"p":"M","x":104.7,"y":5500,"g":5498.01},{"p":"M","x":107.5,"y":5500,"g":5497.62},{"p":"M","x":110.4,"y":5500,"g":5497.54},{"p":"M","x":113.2,"y":5500,"g":5497.58},{"p":"M","x":116,"y":5500,"g":5497.7},{"p":"M","x":118.9,"y":5500,"g":5497.82},{"p":"M","x":121.7,"y":5500,"g":5498.19},{"p":"M","x":124.4,"y":5500,"g":5498.48},{"p":"M","x":127.3,"y":5500,"g":5498.48},{"p":"M","x":130.1,"y":5500,"g":5498.54},{"p":"M","x":133,"y":5500,"g":5498.66},{"p":"M","x":135.8,"y":5500,"g":5498.56},{"p":"M","x":138.6,"y":5500,"g":5499.03},{"p":"M","x":141.5,"y":5500,"g":5499.27},{"p":"M","x":144.3,"y":5500,"g":5499.48},{"p":"M","x":146.3,"y":5500,"g":5500},
{"p":"N","x":65.05,"y":5499.21,"g":5499.21},{"p":"N","x":67.9,"y":5499.21,"g":5498.04},{"p":"N","x":70.7,"y":5499.21,"g":5497.33},{"p":"N","x":73.6,"y":5499.21,"g":5496.85},{"p":"N","x":76.4,"y":5499.21,"g":5496.85},{"p":"N","x":79.3,"y":5499.21,"g":5496.7},{"p":"N","x":82.1,"y":5499.21,"g":5496.72},{"p":"N","x":84.9,"y":5499.21,"g":5496.91},{"p":"N","x":87.8,"y":5499.21,"g":5497.2},{"p":"N","x":90.6,"y":5499.21,"g":5497.32},{"p":"N","x":93.5,"y":5499.21,"g":5496.85},{"p":"N","x":96.3,"y":5499.21,"g":5496.85},{"p":"N","x":99,"y":5499.21,"g":5496.92},{"p":"N","x":101.8,"y":5499.21,"g":5496.9},{"p":"N","x":104.7,"y":5499.21,"g":5496.82},{"p":"N","x":107.5,"y":5499.21,"g":5496.79},{"p":"N","x":110.4,"y":5499.21,"g":5496.7},{"p":"N","x":113.2,"y":5499.21,"g":5496.7},{"p":"N","x":116,"y":5499.21,"g":5497.16},{"p":"N","x":118.9,"y":5499.21,"g":5497.46},{"p":"N","x":121.7,"y":5499.21,"g":5497.85},{"p":"N","x":124.4,"y":5499.21,"g":5498.12},{"p":"N","x":127.3,"y":5499.21,"g":5497.99},{"p":"N","x":130.1,"y":5499.21,"g":5498.55},{"p":"N","x":133,"y":5499.21,"g":5498.74},{"p":"N","x":135.8,"y":5499.21,"g":5498.86},{"p":"N","x":138.6,"y":5499.21,"g":5499.05},{"p":"N","x":140.4,"y":5499.21,"g":5499.21},
{"p":"O","x":59.7,"y":5498.18,"g":5498.18},{"p":"O","x":62.2,"y":5498.18,"g":5496.47},{"p":"O","x":65.1,"y":5498.18,"g":5495.87},{"p":"O","x":67.9,"y":5498.18,"g":5495.42},{"p":"O","x":70.7,"y":5498.18,"g":5495.42},{"p":"O","x":73.6,"y":5498.18,"g":5495.5},{"p":"O","x":76.4,"y":5498.18,"g":5495.42},{"p":"O","x":79.3,"y":5498.18,"g":5495.47},{"p":"O","x":82.1,"y":5498.18,"g":5495.9},{"p":"O","x":84.9,"y":5498.18,"g":5496.19},{"p":"O","x":87.8,"y":5498.18,"g":5496.27},{"p":"O","x":90.6,"y":5498.18,"g":5495.74},{"p":"O","x":93.5,"y":5498.18,"g":5495.74},{"p":"O","x":96.3,"y":5498.18,"g":5495.92},{"p":"O","x":99,"y":5498.18,"g":5495.62},{"p":"O","x":101.8,"y":5498.18,"g":5495.74},{"p":"O","x":104.7,"y":5498.18,"g":5495.71},{"p":"O","x":107.5,"y":5498.18,"g":5495.84},{"p":"O","x":110.4,"y":5498.18,"g":5496.43},{"p":"O","x":113.2,"y":5498.18,"g":5496.73},{"p":"O","x":116,"y":5498.18,"g":5497.02},{"p":"O","x":118.9,"y":5498.18,"g":5497.23},{"p":"O","x":121.7,"y":5498.18,"g":5497.39},{"p":"O","x":124.4,"y":5498.18,"g":5497.58},{"p":"O","x":127.3,"y":5498.18,"g":5497.95},{"p":"O","x":130.1,"y":5498.18,"g":5498.12},{"p":"O","x":131.3,"y":5498.18,"g":5498.18}
],
"lv": [
{"p":"A","k":"WS","x":48.1,"x2":165.6,"y":5489.74},{"p":"A","k":"EG","x":45.5,"x2":178.8,"y":5490.42},
{"p":"B","k":"WS","x":30.3,"x2":138.2,"y":5488.27},{"p":"B","k":"EG","x":27.9,"x2":157,"y":5488.97},
{"p":"C","k":"WS","x":31,"x2":141.4,"y":5487.06},{"p":"C","k":"EG","x":29.8,"x2":156.1,"y":5487.77},
{"p":"D","k":"WS","x":43.2,"x2":141.9,"y":5492.4},{"p":"D","k":"EG","x":39.4,"x2":143.9,"y":5493.15},
{"p":"E","k":"WS","x":49,"x2":144.2,"y":5491.48},{"p":"E","k":"EG","x":38.9,"x2":146.5,"y":5492.26},
{"p":"F","k":"WS","x":51.2,"x2":145.3,"y":5490.58},{"p":"F","k":"EG","x":41.2,"x2":147.8,"y":5491.39},
{"p":"G","k":"WS","x":47.4,"x2":134.1,"y":5495.2},{"p":"G","k":"EG","x":41,"x2":136,"y":5496.04},
{"p":"H","k":"WS","x":40.1,"x2":137.3,"y":5493.97},{"p":"H","k":"EG","x":36.3,"x2":139,"y":5494.77},
{"p":"I","k":"WS","x":42.1,"x2":141.6,"y":5493.09},{"p":"I","k":"EG","x":38.2,"x2":143.4,"y":5493.87},
{"p":"J","k":"WS","x":53.3,"x2":126.2,"y":5497.41},{"p":"J","k":"EG","x":52.2,"x2":145.6,"y":5498.31},
{"p":"K","k":"WS","x":45.2,"x2":130,"y":5496.7},{"p":"K","k":"EG","x":41,"x2":135.8,"y":5497.52},
{"p":"L","k":"WS","x":38.1,"x2":117.9,"y":5496.08},{"p":"L","k":"EG","x":27.3,"x2":125.3,"y":5496.97},
{"p":"M","k":"WS","x":63.6,"x2":146.3,"y":5500},{"p":"M","k":"EG","x":56.1,"x2":149.3,"y":5500.85},
{"p":"N","k":"WS","x":65.05,"x2":140.4,"y":5499.21},{"p":"N","k":"EG","x":63.6,"x2":149.8,"y":5500.14},
{"p":"O","k":"WS","x":59.7,"x2":131.3,"y":5498.18},{"p":"O","k":"EG","x":57.6,"x2":142.4,"y":5499.1}
],
"n": [
{"p":"A","x":0,"x2":204.4,"y":5500.37},{"p":"B","x":0,"x2":196.4,"y":5496.31},{"p":"C","x":0,"x2":205.7,"y":5496.31},
{"p":"D","x":0,"x2":213.2,"y":5500.31},{"p":"E","x":0,"x2":213,"y":5500.31},{"p":"F","x":0,"x2":209.6,"y":5500.31},
{"p":"G","x":0,"x2":212.1,"y":5504.31},{"p":"H","x":0,"x2":213.6,"y":5504.37},{"p":"I","x":0,"x2":217.4,"y":5500.26},
{"p":"J","x":0,"x2":164.3,"y":5506.31},{"p":"K","x":0,"x2":180.5,"y":5504.31},{"p":"L","x":0,"x2":187.7,"y":5504.31},
{"p":"M","x":0,"x2":168.5,"y":5508.31},{"p":"N","x":0,"x2":163.8,"y":5506.26},{"p":"O","x":0,"x2":161.3,"y":5506.31}
],
"nl": [
{"p":"A","x":102,"y":5500.37,"t":".036"},{"p":"B","x":98,"y":5496.31,"t":".036"},{"p":"C","x":103,"y":5496.31,"t":".036"},
{"p":"D","x":107,"y":5500.31,"t":".036"},{"p":"E","x":107,"y":5500.31,"t":".036"},{"p":"F","x":105,"y":5500.31,"t":".036"},
{"p":"G","x":106,"y":5504.31,"t":".036"},{"p":"H","x":107,"y":5504.37,"t":".036"},{"p":"I","x":109,"y":5500.26,"t":".036"},
{"p":"J","x":82,"y":5506.31,"t":".036"},{"p":"K","x":90,"y":5504.31,"t":".036"},{"p":"L","x":94,"y":5504.31,"t":".036"},
{"p":"M","x":84,"y":5508.31,"t":".036"},{"p":"N","x":82,"y":5506.26,"t":".036"},{"p":"O","x":81,"y":5506.31,"t":".036"}
]
},
"resolve": {"scale": {"color": "independent", "stroke": "independent", "shape": "independent"}},
"spacing": 79,
"vconcat": [
{"hconcat": [
 {"vconcat": [
  {"width":634,"height":305,"title":{"text":"8500 Glendale2","subtitle":["Geom: Camino Arroyo 3\u00a0\u00a0\u00a0\u00a0Flow: 1046 cfs","River = CaminoCenterline\u00a0\u00a0\u00a0Reach = CaminoCenterline\u00a0\u00a0\u00a0\u00a0\u00a0\u00a0RS = 98.34"]},
   "encoding":{"x":{"field":"x","type":"quantitative","scale":{"domain":[0,250],"nice":false,"zero":false},"axis":{"title":"Station (ft)","values":[0,50,100,150,200,250]}},"y":{"field":"y","type":"quantitative","scale":{"domain":[5486,5500],"nice":false,"zero":false},"axis":{"title":"Elevation (ft)","values":[5486,5488,5490,5492,5494,5496,5498,5500],"format":"d"}}},
   "layer":[
    {"data":{"name":"w"},"transform":[{"filter":"datum.p=='A'"}],"mark":{"type":"area","color":"#00ffff","opacity":1},"encoding":{"y2":{"field":"g"}}},
    {"data":{"name":"lv"},"transform":[{"filter":"datum.p=='A'&&datum.k=='EG'"}],"mark":{"type":"rule","color":"#8f9f8f","strokeWidth":1.3},"encoding":{"x2":{"field":"x2"}}},
    {"data":{"name":"lv"},"transform":[{"filter":"datum.p=='A'&&datum.k=='WS'"}],"mark":{"type":"rule","color":"#2040ff","strokeWidth":1},"encoding":{"x2":{"field":"x2"}}},
    {"data":{"name":"n"},"transform":[{"filter":"datum.p=='A'"}],"mark":{"type":"rule","color":"#999999","strokeWidth":0.8},"encoding":{"x2":{"field":"x2"}}},
    {"data":{"name":"nl"},"transform":[{"filter":"datum.p=='A'"}],"mark":{"type":"text","fontSize":7,"color":"#ffffff","stroke":"#ffffff","strokeWidth":6},"encoding":{"text":{"field":"t"}}},
    {"data":{"name":"nl"},"transform":[{"filter":"datum.p=='A'"}],"mark":{"type":"text","fontSize":7,"color":"#222222"},"encoding":{"text":{"field":"t"}}},
    {"data":{"name":"g"},"transform":[{"filter":"datum.p=='A'"}],"mark":{"type":"line","color":"#111111","strokeWidth":1},"encoding":{}},
    {"data":{"name":"g"},"transform":[{"filter":"datum.p=='A'"}],"mark":{"type":"point","shape":"square","filled":true,"size":7,"color":"#000000","opacity":1},"encoding":{}},
    {"data":{"name":"b"},"transform":[{"filter":"datum.p=='A'"}],"mark":{"type":"point","filled":true,"size":26,"opacity":1,"strokeWidth":1},"encoding":{"color":{"field":"s","type":"nominal","scale":{"domain":["EG PF 1","WS PF 1","Crit PF 1","Ground","Bank Sta"],"range":["#8f9f8f","#2040ff","#ff2020","#000000","#ee1133"]},"legend":{"title":"Legend"}},"stroke":{"field":"s","type":"nominal","scale":{"domain":["EG PF 1","WS PF 1","Crit PF 1","Ground","Bank Sta"],"range":["#8f9f8f","#2040ff","#ff2020","#000000","#ee1133"]},"legend":{"title":"Legend"}},"shape":{"field":"s","type":"nominal","scale":{"domain":["EG PF 1","WS PF 1","Crit PF 1","Ground","Bank Sta"],"range":["stroke","stroke","stroke","circle","circle"]},"legend":{"title":"Legend"}}}}
   ]},
  {"width":634,"height":305,"title":{"text":"8500 Glendale2","subtitle":["Geom: Camino Arroyo 3\u00a0\u00a0\u00a0\u00a0Flow: 1046 cfs","River = CaminoCenterline\u00a0\u00a0\u00a0Reach = CaminoCenterline\u00a0\u00a0\u00a0\u00a0\u00a0\u00a0RS = 59.25"]},
   "encoding":{"x":{"field":"x","type":"quantitative","scale":{"domain":[0,200],"nice":false,"zero":false},"axis":{"title":"Station (ft)","values":[0,50,100,150,200]}},"y":{"field":"y","type":"quantitative","scale":{"domain":[5484,5496],"nice":false,"zero":false},"axis":{"title":"Elevation (ft)","values":[5484,5486,5488,5490,5492,5494,5496],"format":"d"}}},
   "layer":[
    {"data":{"name":"w"},"transform":[{"filter":"datum.p=='B'"}],"mark":{"type":"area","color":"#00ffff","opacity":1},"encoding":{"y2":{"field":"g"}}},
    {"data":{"name":"lv"},"transform":[{"filter":"datum.p=='B'&&datum.k=='EG'"}],"mark":{"type":"rule","color":"#8f9f8f","strokeWidth":1.3},"encoding":{"x2":{"field":"x2"}}},
    {"data":{"name":"lv"},"transform":[{"filter":"datum.p=='B'&&datum.k=='WS'"}],"mark":{"type":"rule","color":"#2040ff","strokeWidth":1},"encoding":{"x2":{"field":"x2"}}},
    {"data":{"name":"n"},"transform":[{"filter":"datum.p=='B'"}],"mark":{"type":"rule","color":"#999999","strokeWidth":0.8},"encoding":{"x2":{"field":"x2"}}},
    {"data":{"name":"nl"},"transform":[{"filter":"datum.p=='B'"}],"mark":{"type":"text","fontSize":7,"color":"#ffffff","stroke":"#ffffff","strokeWidth":6},"encoding":{"text":{"field":"t"}}},
    {"data":{"name":"nl"},"transform":[{"filter":"datum.p=='B'"}],"mark":{"type":"text","fontSize":7,"color":"#222222"},"encoding":{"text":{"field":"t"}}},
    {"data":{"name":"g"},"transform":[{"filter":"datum.p=='B'"}],"mark":{"type":"line","color":"#111111","strokeWidth":1},"encoding":{}},
    {"data":{"name":"g"},"transform":[{"filter":"datum.p=='B'"}],"mark":{"type":"point","shape":"square","filled":true,"size":7,"color":"#000000","opacity":1},"encoding":{}},
    {"data":{"name":"b"},"transform":[{"filter":"datum.p=='B'"}],"mark":{"type":"point","filled":true,"size":26,"opacity":1,"strokeWidth":1},"encoding":{"color":{"field":"s","type":"nominal","scale":{"domain":["EG PF 1","WS PF 1","Crit PF 1","Ground","Bank Sta"],"range":["#8f9f8f","#2040ff","#ff2020","#000000","#ee1133"]},"legend":{"title":"Legend"}},"stroke":{"field":"s","type":"nominal","scale":{"domain":["EG PF 1","WS PF 1","Crit PF 1","Ground","Bank Sta"],"range":["#8f9f8f","#2040ff","#ff2020","#000000","#ee1133"]},"legend":{"title":"Legend"}},"shape":{"field":"s","type":"nominal","scale":{"domain":["EG PF 1","WS PF 1","Crit PF 1","Ground","Bank Sta"],"range":["stroke","stroke","stroke","circle","circle"]},"legend":{"title":"Legend"}}}}
   ]},
  {"width":634,"height":305,"title":{"text":"8500 Glendale2","subtitle":["Geom: Camino Arroyo 3\u00a0\u00a0\u00a0\u00a0Flow: 1046 cfs","River = CaminoCenterline\u00a0\u00a0\u00a0Reach = CaminoCenterline\u00a0\u00a0\u00a0\u00a0\u00a0\u00a0RS = 28.04"]},
   "encoding":{"x":{"field":"x","type":"quantitative","scale":{"domain":[0,250],"nice":false,"zero":false},"axis":{"title":"Station (ft)","values":[0,50,100,150,200,250]}},"y":{"field":"y","type":"quantitative","scale":{"domain":[5484,5496],"nice":false,"zero":false},"axis":{"title":"Elevation (ft)","values":[5484,5486,5488,5490,5492,5494,5496],"format":"d"}}},
   "layer":[
    {"data":{"name":"w"},"transform":[{"filter":"datum.p=='C'"}],"mark":{"type":"area","color":"#00ffff","opacity":1},"encoding":{"y2":{"field":"g"}}},
    {"data":{"name":"lv"},"transform":[{"filter":"datum.p=='C'&&datum.k=='EG'"}],"mark":{"type":"rule","color":"#8f9f8f","strokeWidth":1.3},"encoding":{"x2":{"field":"x2"}}},
    {"data":{"name":"lv"},"transform":[{"filter":"datum.p=='C'&&datum.k=='WS'"}],"mark":{"type":"rule","color":"#2040ff","strokeWidth":1},"encoding":{"x2":{"field":"x2"}}},
    {"data":{"name":"n"},"transform":[{"filter":"datum.p=='C'"}],"mark":{"type":"rule","color":"#999999","strokeWidth":0.8},"encoding":{"x2":{"field":"x2"}}},
    {"data":{"name":"nl"},"transform":[{"filter":"datum.p=='C'"}],"mark":{"type":"text","fontSize":7,"color":"#ffffff","stroke":"#ffffff","strokeWidth":6},"encoding":{"text":{"field":"t"}}},
    {"data":{"name":"nl"},"transform":[{"filter":"datum.p=='C'"}],"mark":{"type":"text","fontSize":7,"color":"#222222"},"encoding":{"text":{"field":"t"}}},
    {"data":{"name":"g"},"transform":[{"filter":"datum.p=='C'"}],"mark":{"type":"line","color":"#111111","strokeWidth":1},"encoding":{}},
    {"data":{"name":"g"},"transform":[{"filter":"datum.p=='C'"}],"mark":{"type":"point","shape":"square","filled":true,"size":7,"color":"#000000","opacity":1},"encoding":{}},
    {"data":{"name":"b"},"transform":[{"filter":"datum.p=='C'"}],"mark":{"type":"point","filled":true,"size":26,"opacity":1,"strokeWidth":1},"encoding":{"color":{"field":"s","type":"nominal","scale":{"domain":["EG PF 1","WS PF 1","Crit PF 1","Ground","Bank Sta"],"range":["#8f9f8f","#2040ff","#ff2020","#000000","#ee1133"]},"legend":{"title":"Legend"}},"stroke":{"field":"s","type":"nominal","scale":{"domain":["EG PF 1","WS PF 1","Crit PF 1","Ground","Bank Sta"],"range":["#8f9f8f","#2040ff","#ff2020","#000000","#ee1133"]},"legend":{"title":"Legend"}},"shape":{"field":"s","type":"nominal","scale":{"domain":["EG PF 1","WS PF 1","Crit PF 1","Ground","Bank Sta"],"range":["stroke","stroke","stroke","circle","circle"]},"legend":{"title":"Legend"}}}}
   ]}
 ], "spacing": 12, "resolve": {"scale": {"color": "independent", "stroke": "independent", "shape": "independent"}}},
 {"vconcat": [
  {"width":634,"height":305,"title":{"text":"8500 Glendale2","subtitle":["Geom: Camino Arroyo 3\u00a0\u00a0\u00a0\u00a0Flow: 1046 cfs","River = CaminoCenterline\u00a0\u00a0\u00a0Reach = CaminoCenterline\u00a0\u00a0\u00a0\u00a0\u00a0\u00a0RS = 181.29"]},
   "encoding":{"x":{"field":"x","type":"quantitative","scale":{"domain":[0,250],"nice":false,"zero":false},"axis":{"title":"Station (ft)","values":[0,50,100,150,200,250]}},"y":{"field":"y","type":"quantitative","scale":{"domain":[5488,5500],"nice":false,"zero":false},"axis":{"title":"Elevation (ft)","values":[5488,5490,5492,5494,5496,5498,5500],"format":"d"}}},
   "layer":[
    {"data":{"name":"w"},"transform":[{"filter":"datum.p=='D'"}],"mark":{"type":"area","color":"#00ffff","opacity":1},"encoding":{"y2":{"field":"g"}}},
    {"data":{"name":"lv"},"transform":[{"filter":"datum.p=='D'&&datum.k=='EG'"}],"mark":{"type":"rule","color":"#8f9f8f","strokeWidth":1.3},"encoding":{"x2":{"field":"x2"}}},
    {"data":{"name":"lv"},"transform":[{"filter":"datum.p=='D'&&datum.k=='WS'"}],"mark":{"type":"rule","color":"#2040ff","strokeWidth":1},"encoding":{"x2":{"field":"x2"}}},
    {"data":{"name":"n"},"transform":[{"filter":"datum.p=='D'"}],"mark":{"type":"rule","color":"#999999","strokeWidth":0.8},"encoding":{"x2":{"field":"x2"}}},
    {"data":{"name":"nl"},"transform":[{"filter":"datum.p=='D'"}],"mark":{"type":"text","fontSize":7,"color":"#ffffff","stroke":"#ffffff","strokeWidth":6},"encoding":{"text":{"field":"t"}}},
    {"data":{"name":"nl"},"transform":[{"filter":"datum.p=='D'"}],"mark":{"type":"text","fontSize":7,"color":"#222222"},"encoding":{"text":{"field":"t"}}},
    {"data":{"name":"g"},"transform":[{"filter":"datum.p=='D'"}],"mark":{"type":"line","color":"#111111","strokeWidth":1},"encoding":{}},
    {"data":{"name":"g"},"transform":[{"filter":"datum.p=='D'"}],"mark":{"type":"point","shape":"square","filled":true,"size":7,"color":"#000000","opacity":1},"encoding":{}},
    {"data":{"name":"b"},"transform":[{"filter":"datum.p=='D'"}],"mark":{"type":"point","filled":true,"size":26,"opacity":1,"strokeWidth":1},"encoding":{"color":{"field":"s","type":"nominal","scale":{"domain":["EG PF 1","WS PF 1","Crit PF 1","Ground","Bank Sta"],"range":["#8f9f8f","#2040ff","#ff2020","#000000","#ee1133"]},"legend":{"title":"Legend"}},"stroke":{"field":"s","type":"nominal","scale":{"domain":["EG PF 1","WS PF 1","Crit PF 1","Ground","Bank Sta"],"range":["#8f9f8f","#2040ff","#ff2020","#000000","#ee1133"]},"legend":{"title":"Legend"}},"shape":{"field":"s","type":"nominal","scale":{"domain":["EG PF 1","WS PF 1","Crit PF 1","Ground","Bank Sta"],"range":["stroke","stroke","stroke","circle","circle"]},"legend":{"title":"Legend"}}}}
   ]},
  {"width":634,"height":305,"title":{"text":"8500 Glendale2","subtitle":["Geom: Camino Arroyo 3\u00a0\u00a0\u00a0\u00a0Flow: 1046 cfs","River = CaminoCenterline\u00a0\u00a0\u00a0Reach = CaminoCenterline\u00a0\u00a0\u00a0\u00a0\u00a0\u00a0RS = 156.82"]},
   "encoding":{"x":{"field":"x","type":"quantitative","scale":{"domain":[0,250],"nice":false,"zero":false},"axis":{"title":"Station (ft)","values":[0,50,100,150,200,250]}},"y":{"field":"y","type":"quantitative","scale":{"domain":[5488,5500],"nice":false,"zero":false},"axis":{"title":"Elevation (ft)","values":[5488,5490,5492,5494,5496,5498,5500],"format":"d"}}},
   "layer":[
    {"data":{"name":"w"},"transform":[{"filter":"datum.p=='E'"}],"mark":{"type":"area","color":"#00ffff","opacity":1},"encoding":{"y2":{"field":"g"}}},
    {"data":{"name":"lv"},"transform":[{"filter":"datum.p=='E'&&datum.k=='EG'"}],"mark":{"type":"rule","color":"#8f9f8f","strokeWidth":1.3},"encoding":{"x2":{"field":"x2"}}},
    {"data":{"name":"lv"},"transform":[{"filter":"datum.p=='E'&&datum.k=='WS'"}],"mark":{"type":"rule","color":"#2040ff","strokeWidth":1},"encoding":{"x2":{"field":"x2"}}},
    {"data":{"name":"n"},"transform":[{"filter":"datum.p=='E'"}],"mark":{"type":"rule","color":"#999999","strokeWidth":0.8},"encoding":{"x2":{"field":"x2"}}},
    {"data":{"name":"nl"},"transform":[{"filter":"datum.p=='E'"}],"mark":{"type":"text","fontSize":7,"color":"#ffffff","stroke":"#ffffff","strokeWidth":6},"encoding":{"text":{"field":"t"}}},
    {"data":{"name":"nl"},"transform":[{"filter":"datum.p=='E'"}],"mark":{"type":"text","fontSize":7,"color":"#222222"},"encoding":{"text":{"field":"t"}}},
    {"data":{"name":"g"},"transform":[{"filter":"datum.p=='E'"}],"mark":{"type":"line","color":"#111111","strokeWidth":1},"encoding":{}},
    {"data":{"name":"g"},"transform":[{"filter":"datum.p=='E'"}],"mark":{"type":"point","shape":"square","filled":true,"size":7,"color":"#000000","opacity":1},"encoding":{}},
    {"data":{"name":"b"},"transform":[{"filter":"datum.p=='E'"}],"mark":{"type":"point","filled":true,"size":26,"opacity":1,"strokeWidth":1},"encoding":{"color":{"field":"s","type":"nominal","scale":{"domain":["EG PF 1","WS PF 1","Crit PF 1","Ground","Bank Sta"],"range":["#8f9f8f","#2040ff","#ff2020","#000000","#ee1133"]},"legend":{"title":"Legend"}},"stroke":{"field":"s","type":"nominal","scale":{"domain":["EG PF 1","WS PF 1","Crit PF 1","Ground","Bank Sta"],"range":["#8f9f8f","#2040ff","#ff2020","#000000","#ee1133"]},"legend":{"title":"Legend"}},"shape":{"field":"s","type":"nominal","scale":{"domain":["EG PF 1","WS PF 1","Crit PF 1","Ground","Bank Sta"],"range":["stroke","stroke","stroke","circle","circle"]},"legend":{"title":"Legend"}}}}
   ]},
  {"width":634,"height":305,"title":{"text":"8500 Glendale2","subtitle":["Geom: Camino Arroyo 3\u00a0\u00a0\u00a0\u00a0Flow: 1046 cfs","River = CaminoCenterline\u00a0\u00a0\u00a0Reach = CaminoCenterline\u00a0\u00a0\u00a0\u00a0\u00a0\u00a0RS = 129.16"]},
   "encoding":{"x":{"field":"x","type":"quantitative","scale":{"domain":[0,250],"nice":false,"zero":false},"axis":{"title":"Station (ft)","values":[0,50,100,150,200,250]}},"y":{"field":"y","type":"quantitative","scale":{"domain":[5488,5500],"nice":false,"zero":false},"axis":{"title":"Elevation (ft)","values":[5488,5490,5492,5494,5496,5498,5500],"format":"d"}}},
   "layer":[
    {"data":{"name":"w"},"transform":[{"filter":"datum.p=='F'"}],"mark":{"type":"area","color":"#00ffff","opacity":1},"encoding":{"y2":{"field":"g"}}},
    {"data":{"name":"lv"},"transform":[{"filter":"datum.p=='F'&&datum.k=='EG'"}],"mark":{"type":"rule","color":"#8f9f8f","strokeWidth":1.3},"encoding":{"x2":{"field":"x2"}}},
    {"data":{"name":"lv"},"transform":[{"filter":"datum.p=='F'&&datum.k=='WS'"}],"mark":{"type":"rule","color":"#2040ff","strokeWidth":1},"encoding":{"x2":{"field":"x2"}}},
    {"data":{"name":"n"},"transform":[{"filter":"datum.p=='F'"}],"mark":{"type":"rule","color":"#999999","strokeWidth":0.8},"encoding":{"x2":{"field":"x2"}}},
    {"data":{"name":"nl"},"transform":[{"filter":"datum.p=='F'"}],"mark":{"type":"text","fontSize":7,"color":"#ffffff","stroke":"#ffffff","strokeWidth":6},"encoding":{"text":{"field":"t"}}},
    {"data":{"name":"nl"},"transform":[{"filter":"datum.p=='F'"}],"mark":{"type":"text","fontSize":7,"color":"#222222"},"encoding":{"text":{"field":"t"}}},
    {"data":{"name":"g"},"transform":[{"filter":"datum.p=='F'"}],"mark":{"type":"line","color":"#111111","strokeWidth":1},"encoding":{}},
    {"data":{"name":"g"},"transform":[{"filter":"datum.p=='F'"}],"mark":{"type":"point","shape":"square","filled":true,"size":7,"color":"#000000","opacity":1},"encoding":{}},
    {"data":{"name":"b"},"transform":[{"filter":"datum.p=='F'"}],"mark":{"type":"point","filled":true,"size":26,"opacity":1,"strokeWidth":1},"encoding":{"color":{"field":"s","type":"nominal","scale":{"domain":["EG PF 1","WS PF 1","Crit PF 1","Ground","Bank Sta"],"range":["#8f9f8f","#2040ff","#ff2020","#000000","#ee1133"]},"legend":{"title":"Legend"}},"stroke":{"field":"s","type":"nominal","scale":{"domain":["EG PF 1","WS PF 1","Crit PF 1","Ground","Bank Sta"],"range":["#8f9f8f","#2040ff","#ff2020","#000000","#ee1133"]},"legend":{"title":"Legend"}},"shape":{"field":"s","type":"nominal","scale":{"domain":["EG PF 1","WS PF 1","Crit PF 1","Ground","Bank Sta"],"range":["stroke","stroke","stroke","circle","circle"]},"legend":{"title":"Legend"}}}}
   ]}
 ], "spacing": 12, "resolve": {"scale": {"color": "independent", "stroke": "independent", "shape": "independent"}}},
 {"vconcat": [
  {"width":634,"height":305,"title":{"text":"8500 Glendale2","subtitle":["Geom: Camino Arroyo 3\u00a0\u00a0\u00a0\u00a0Flow: 1046 cfs","River = CaminoCenterline\u00a0\u00a0\u00a0Reach = CaminoCenterline\u00a0\u00a0\u00a0\u00a0\u00a0\u00a0RS = 255.92"]},
   "encoding":{"x":{"field":"x","type":"quantitative","scale":{"domain":[0,250],"nice":false,"zero":false},"axis":{"title":"Station (ft)","values":[0,50,100,150,200,250]}},"y":{"field":"y","type":"quantitative","scale":{"domain":[5492,5504],"nice":false,"zero":false},"axis":{"title":"Elevation (ft)","values":[5492,5494,5496,5498,5500,5502,5504],"format":"d"}}},
   "layer":[
    {"data":{"name":"w"},"transform":[{"filter":"datum.p=='G'"}],"mark":{"type":"area","color":"#00ffff","opacity":1},"encoding":{"y2":{"field":"g"}}},
    {"data":{"name":"lv"},"transform":[{"filter":"datum.p=='G'&&datum.k=='EG'"}],"mark":{"type":"rule","color":"#8f9f8f","strokeWidth":1.3},"encoding":{"x2":{"field":"x2"}}},
    {"data":{"name":"lv"},"transform":[{"filter":"datum.p=='G'&&datum.k=='WS'"}],"mark":{"type":"rule","color":"#2040ff","strokeWidth":1},"encoding":{"x2":{"field":"x2"}}},
    {"data":{"name":"n"},"transform":[{"filter":"datum.p=='G'"}],"mark":{"type":"rule","color":"#999999","strokeWidth":0.8},"encoding":{"x2":{"field":"x2"}}},
    {"data":{"name":"nl"},"transform":[{"filter":"datum.p=='G'"}],"mark":{"type":"text","fontSize":7,"color":"#ffffff","stroke":"#ffffff","strokeWidth":6},"encoding":{"text":{"field":"t"}}},
    {"data":{"name":"nl"},"transform":[{"filter":"datum.p=='G'"}],"mark":{"type":"text","fontSize":7,"color":"#222222"},"encoding":{"text":{"field":"t"}}},
    {"data":{"name":"g"},"transform":[{"filter":"datum.p=='G'"}],"mark":{"type":"line","color":"#111111","strokeWidth":1},"encoding":{}},
    {"data":{"name":"g"},"transform":[{"filter":"datum.p=='G'"}],"mark":{"type":"point","shape":"square","filled":true,"size":7,"color":"#000000","opacity":1},"encoding":{}},
    {"data":{"name":"b"},"transform":[{"filter":"datum.p=='G'"}],"mark":{"type":"point","filled":true,"size":26,"opacity":1,"strokeWidth":1},"encoding":{"color":{"field":"s","type":"nominal","scale":{"domain":["EG PF 1","WS PF 1","Crit PF 1","Ground","Bank Sta"],"range":["#8f9f8f","#2040ff","#ff2020","#000000","#ee1133"]},"legend":{"title":"Legend"}},"stroke":{"field":"s","type":"nominal","scale":{"domain":["EG PF 1","WS PF 1","Crit PF 1","Ground","Bank Sta"],"range":["#8f9f8f","#2040ff","#ff2020","#000000","#ee1133"]},"legend":{"title":"Legend"}},"shape":{"field":"s","type":"nominal","scale":{"domain":["EG PF 1","WS PF 1","Crit PF 1","Ground","Bank Sta"],"range":["stroke","stroke","stroke","circle","circle"]},"legend":{"title":"Legend"}}}}
   ]},
  {"width":634,"height":305,"title":{"text":"8500 Glendale2","subtitle":["Geom: Camino Arroyo 3\u00a0\u00a0\u00a0\u00a0Flow: 1046 cfs","River = CaminoCenterline\u00a0\u00a0\u00a0Reach = CaminoCenterline\u00a0\u00a0\u00a0\u00a0\u00a0\u00a0RS = 230.01"]},
   "encoding":{"x":{"field":"x","type":"quantitative","scale":{"domain":[0,250],"nice":false,"zero":false},"axis":{"title":"Station (ft)","values":[0,50,100,150,200,250]}},"y":{"field":"y","type":"quantitative","scale":{"domain":[5490,5504],"nice":false,"zero":false},"axis":{"title":"Elevation (ft)","values":[5490,5492,5494,5496,5498,5500,5502,5504],"format":"d"}}},
   "layer":[
    {"data":{"name":"w"},"transform":[{"filter":"datum.p=='H'"}],"mark":{"type":"area","color":"#00ffff","opacity":1},"encoding":{"y2":{"field":"g"}}},
    {"data":{"name":"lv"},"transform":[{"filter":"datum.p=='H'&&datum.k=='EG'"}],"mark":{"type":"rule","color":"#8f9f8f","strokeWidth":1.3},"encoding":{"x2":{"field":"x2"}}},
    {"data":{"name":"lv"},"transform":[{"filter":"datum.p=='H'&&datum.k=='WS'"}],"mark":{"type":"rule","color":"#2040ff","strokeWidth":1},"encoding":{"x2":{"field":"x2"}}},
    {"data":{"name":"n"},"transform":[{"filter":"datum.p=='H'"}],"mark":{"type":"rule","color":"#999999","strokeWidth":0.8},"encoding":{"x2":{"field":"x2"}}},
    {"data":{"name":"nl"},"transform":[{"filter":"datum.p=='H'"}],"mark":{"type":"text","fontSize":7,"color":"#ffffff","stroke":"#ffffff","strokeWidth":6},"encoding":{"text":{"field":"t"}}},
    {"data":{"name":"nl"},"transform":[{"filter":"datum.p=='H'"}],"mark":{"type":"text","fontSize":7,"color":"#222222"},"encoding":{"text":{"field":"t"}}},
    {"data":{"name":"g"},"transform":[{"filter":"datum.p=='H'"}],"mark":{"type":"line","color":"#111111","strokeWidth":1},"encoding":{}},
    {"data":{"name":"g"},"transform":[{"filter":"datum.p=='H'"}],"mark":{"type":"point","shape":"square","filled":true,"size":7,"color":"#000000","opacity":1},"encoding":{}},
    {"data":{"name":"b"},"transform":[{"filter":"datum.p=='H'"}],"mark":{"type":"point","filled":true,"size":26,"opacity":1,"strokeWidth":1},"encoding":{"color":{"field":"s","type":"nominal","scale":{"domain":["EG PF 1","WS PF 1","Crit PF 1","Ground","Bank Sta"],"range":["#8f9f8f","#2040ff","#ff2020","#000000","#ee1133"]},"legend":{"title":"Legend"}},"stroke":{"field":"s","type":"nominal","scale":{"domain":["EG PF 1","WS PF 1","Crit PF 1","Ground","Bank Sta"],"range":["#8f9f8f","#2040ff","#ff2020","#000000","#ee1133"]},"legend":{"title":"Legend"}},"shape":{"field":"s","type":"nominal","scale":{"domain":["EG PF 1","WS PF 1","Crit PF 1","Ground","Bank Sta"],"range":["stroke","stroke","stroke","circle","circle"]},"legend":{"title":"Legend"}}}}
   ]},
  {"width":634,"height":305,"title":{"text":"8500 Glendale2","subtitle":["Geom: Camino Arroyo 3\u00a0\u00a0\u00a0\u00a0Flow: 1046 cfs","River = CaminoCenterline\u00a0\u00a0\u00a0Reach = CaminoCenterline\u00a0\u00a0\u00a0\u00a0\u00a0\u00a0RS = 204.86"]},
   "encoding":{"x":{"field":"x","type":"quantitative","scale":{"domain":[0,250],"nice":false,"zero":false},"axis":{"title":"Station (ft)","values":[0,50,100,150,200,250]}},"y":{"field":"y","type":"quantitative","scale":{"domain":[5490,5500],"nice":false,"zero":false},"axis":{"title":"Elevation (ft)","values":[5490,5492,5494,5496,5498,5500],"format":"d"}}},
   "layer":[
    {"data":{"name":"w"},"transform":[{"filter":"datum.p=='I'"}],"mark":{"type":"area","color":"#00ffff","opacity":1},"encoding":{"y2":{"field":"g"}}},
    {"data":{"name":"lv"},"transform":[{"filter":"datum.p=='I'&&datum.k=='EG'"}],"mark":{"type":"rule","color":"#8f9f8f","strokeWidth":1.3},"encoding":{"x2":{"field":"x2"}}},
    {"data":{"name":"lv"},"transform":[{"filter":"datum.p=='I'&&datum.k=='WS'"}],"mark":{"type":"rule","color":"#2040ff","strokeWidth":1},"encoding":{"x2":{"field":"x2"}}},
    {"data":{"name":"n"},"transform":[{"filter":"datum.p=='I'"}],"mark":{"type":"rule","color":"#999999","strokeWidth":0.8},"encoding":{"x2":{"field":"x2"}}},
    {"data":{"name":"nl"},"transform":[{"filter":"datum.p=='I'"}],"mark":{"type":"text","fontSize":7,"color":"#ffffff","stroke":"#ffffff","strokeWidth":6},"encoding":{"text":{"field":"t"}}},
    {"data":{"name":"nl"},"transform":[{"filter":"datum.p=='I'"}],"mark":{"type":"text","fontSize":7,"color":"#222222"},"encoding":{"text":{"field":"t"}}},
    {"data":{"name":"g"},"transform":[{"filter":"datum.p=='I'"}],"mark":{"type":"line","color":"#111111","strokeWidth":1},"encoding":{}},
    {"data":{"name":"g"},"transform":[{"filter":"datum.p=='I'"}],"mark":{"type":"point","shape":"square","filled":true,"size":7,"color":"#000000","opacity":1},"encoding":{}},
    {"data":{"name":"b"},"transform":[{"filter":"datum.p=='I'"}],"mark":{"type":"point","filled":true,"size":26,"opacity":1,"strokeWidth":1},"encoding":{"color":{"field":"s","type":"nominal","scale":{"domain":["EG PF 1","WS PF 1","Crit PF 1","Ground","Bank Sta"],"range":["#8f9f8f","#2040ff","#ff2020","#000000","#ee1133"]},"legend":{"title":"Legend"}},"stroke":{"field":"s","type":"nominal","scale":{"domain":["EG PF 1","WS PF 1","Crit PF 1","Ground","Bank Sta"],"range":["#8f9f8f","#2040ff","#ff2020","#000000","#ee1133"]},"legend":{"title":"Legend"}},"shape":{"field":"s","type":"nominal","scale":{"domain":["EG PF 1","WS PF 1","Crit PF 1","Ground","Bank Sta"],"range":["stroke","stroke","stroke","circle","circle"]},"legend":{"title":"Legend"}}}}
   ]}
 ], "spacing": 12, "resolve": {"scale": {"color": "independent", "stroke": "independent", "shape": "independent"}}}
], "spacing": 78, "resolve": {"scale": {"color": "independent", "stroke": "independent", "shape": "independent"}}},
{"hconcat": [
 {"vconcat": [
  {"width":634,"height":305,"title":{"text":"8500 Glendale2","subtitle":["Geom: Camino Arroyo 3\u00a0\u00a0\u00a0\u00a0Flow: 1046 cfs","River = CaminoCenterline\u00a0\u00a0\u00a0Reach = CaminoCenterline\u00a0\u00a0\u00a0\u00a0\u00a0\u00a0RS = 332.32"]},
   "encoding":{"x":{"field":"x","type":"quantitative","scale":{"domain":[0,180],"nice":false,"zero":false},"axis":{"title":"Station (ft)","values":[0,20,40,60,80,100,120,140,160,180]}},"y":{"field":"y","type":"quantitative","scale":{"domain":[5494,5506],"nice":false,"zero":false},"axis":{"title":"Elevation (ft)","values":[5494,5496,5498,5500,5502,5504,5506],"format":"d"}}},
   "layer":[
    {"data":{"name":"w"},"transform":[{"filter":"datum.p=='J'"}],"mark":{"type":"area","color":"#00ffff","opacity":1},"encoding":{"y2":{"field":"g"}}},
    {"data":{"name":"lv"},"transform":[{"filter":"datum.p=='J'&&datum.k=='EG'"}],"mark":{"type":"rule","color":"#8f9f8f","strokeWidth":1.3},"encoding":{"x2":{"field":"x2"}}},
    {"data":{"name":"lv"},"transform":[{"filter":"datum.p=='J'&&datum.k=='WS'"}],"mark":{"type":"rule","color":"#2040ff","strokeWidth":1},"encoding":{"x2":{"field":"x2"}}},
    {"data":{"name":"n"},"transform":[{"filter":"datum.p=='J'"}],"mark":{"type":"rule","color":"#999999","strokeWidth":0.8},"encoding":{"x2":{"field":"x2"}}},
    {"data":{"name":"nl"},"transform":[{"filter":"datum.p=='J'"}],"mark":{"type":"text","fontSize":7,"color":"#ffffff","stroke":"#ffffff","strokeWidth":6},"encoding":{"text":{"field":"t"}}},
    {"data":{"name":"nl"},"transform":[{"filter":"datum.p=='J'"}],"mark":{"type":"text","fontSize":7,"color":"#222222"},"encoding":{"text":{"field":"t"}}},
    {"data":{"name":"g"},"transform":[{"filter":"datum.p=='J'"}],"mark":{"type":"line","color":"#111111","strokeWidth":1},"encoding":{}},
    {"data":{"name":"g"},"transform":[{"filter":"datum.p=='J'"}],"mark":{"type":"point","shape":"square","filled":true,"size":7,"color":"#000000","opacity":1},"encoding":{}},
    {"data":{"name":"b"},"transform":[{"filter":"datum.p=='J'"}],"mark":{"type":"point","filled":true,"size":26,"opacity":1,"strokeWidth":1},"encoding":{"color":{"field":"s","type":"nominal","scale":{"domain":["EG PF 1","WS PF 1","Crit PF 1","Ground","Bank Sta"],"range":["#8f9f8f","#2040ff","#ff2020","#000000","#ee1133"]},"legend":{"title":"Legend"}},"stroke":{"field":"s","type":"nominal","scale":{"domain":["EG PF 1","WS PF 1","Crit PF 1","Ground","Bank Sta"],"range":["#8f9f8f","#2040ff","#ff2020","#000000","#ee1133"]},"legend":{"title":"Legend"}},"shape":{"field":"s","type":"nominal","scale":{"domain":["EG PF 1","WS PF 1","Crit PF 1","Ground","Bank Sta"],"range":["stroke","stroke","stroke","circle","circle"]},"legend":{"title":"Legend"}}}}
   ]},
  {"width":634,"height":305,"title":{"text":"8500 Glendale2","subtitle":["Geom: Camino Arroyo 3\u00a0\u00a0\u00a0\u00a0Flow: 1046 cfs","River = CaminoCenterline\u00a0\u00a0\u00a0Reach = CaminoCenterline\u00a0\u00a0\u00a0\u00a0\u00a0\u00a0RS = 299.51"]},
   "encoding":{"x":{"field":"x","type":"quantitative","scale":{"domain":[0,200],"nice":false,"zero":false},"axis":{"title":"Station (ft)","values":[0,50,100,150,200]}},"y":{"field":"y","type":"quantitative","scale":{"domain":[5492,5504],"nice":false,"zero":false},"axis":{"title":"Elevation (ft)","values":[5492,5494,5496,5498,5500,5502,5504],"format":"d"}}},
   "layer":[
    {"data":{"name":"w"},"transform":[{"filter":"datum.p=='K'"}],"mark":{"type":"area","color":"#00ffff","opacity":1},"encoding":{"y2":{"field":"g"}}},
    {"data":{"name":"lv"},"transform":[{"filter":"datum.p=='K'&&datum.k=='EG'"}],"mark":{"type":"rule","color":"#8f9f8f","strokeWidth":1.3},"encoding":{"x2":{"field":"x2"}}},
    {"data":{"name":"lv"},"transform":[{"filter":"datum.p=='K'&&datum.k=='WS'"}],"mark":{"type":"rule","color":"#2040ff","strokeWidth":1},"encoding":{"x2":{"field":"x2"}}},
    {"data":{"name":"n"},"transform":[{"filter":"datum.p=='K'"}],"mark":{"type":"rule","color":"#999999","strokeWidth":0.8},"encoding":{"x2":{"field":"x2"}}},
    {"data":{"name":"nl"},"transform":[{"filter":"datum.p=='K'"}],"mark":{"type":"text","fontSize":7,"color":"#ffffff","stroke":"#ffffff","strokeWidth":6},"encoding":{"text":{"field":"t"}}},
    {"data":{"name":"nl"},"transform":[{"filter":"datum.p=='K'"}],"mark":{"type":"text","fontSize":7,"color":"#222222"},"encoding":{"text":{"field":"t"}}},
    {"data":{"name":"g"},"transform":[{"filter":"datum.p=='K'"}],"mark":{"type":"line","color":"#111111","strokeWidth":1},"encoding":{}},
    {"data":{"name":"g"},"transform":[{"filter":"datum.p=='K'"}],"mark":{"type":"point","shape":"square","filled":true,"size":7,"color":"#000000","opacity":1},"encoding":{}},
    {"data":{"name":"b"},"transform":[{"filter":"datum.p=='K'"}],"mark":{"type":"point","filled":true,"size":26,"opacity":1,"strokeWidth":1},"encoding":{"color":{"field":"s","type":"nominal","scale":{"domain":["EG PF 1","WS PF 1","Crit PF 1","Ground","Bank Sta"],"range":["#8f9f8f","#2040ff","#ff2020","#000000","#ee1133"]},"legend":{"title":"Legend"}},"stroke":{"field":"s","type":"nominal","scale":{"domain":["EG PF 1","WS PF 1","Crit PF 1","Ground","Bank Sta"],"range":["#8f9f8f","#2040ff","#ff2020","#000000","#ee1133"]},"legend":{"title":"Legend"}},"shape":{"field":"s","type":"nominal","scale":{"domain":["EG PF 1","WS PF 1","Crit PF 1","Ground","Bank Sta"],"range":["stroke","stroke","stroke","circle","circle"]},"legend":{"title":"Legend"}}}}
   ]},
  {"width":634,"height":305,"title":{"text":"8500 Glendale2","subtitle":["Geom: Camino Arroyo 3\u00a0\u00a0\u00a0\u00a0Flow: 1046 cfs","River = CaminoCenterline\u00a0\u00a0\u00a0Reach = CaminoCenterline\u00a0\u00a0\u00a0\u00a0\u00a0\u00a0RS = 277.76"]},
   "encoding":{"x":{"field":"x","type":"quantitative","scale":{"domain":[0,200],"nice":false,"zero":false},"axis":{"title":"Station (ft)","values":[0,50,100,150,200]}},"y":{"field":"y","type":"quantitative","scale":{"domain":[5492,5504],"nice":false,"zero":false},"axis":{"title":"Elevation (ft)","values":[5492,5494,5496,5498,5500,5502,5504],"format":"d"}}},
   "layer":[
    {"data":{"name":"w"},"transform":[{"filter":"datum.p=='L'"}],"mark":{"type":"area","color":"#00ffff","opacity":1},"encoding":{"y2":{"field":"g"}}},
    {"data":{"name":"lv"},"transform":[{"filter":"datum.p=='L'&&datum.k=='EG'"}],"mark":{"type":"rule","color":"#8f9f8f","strokeWidth":1.3},"encoding":{"x2":{"field":"x2"}}},
    {"data":{"name":"lv"},"transform":[{"filter":"datum.p=='L'&&datum.k=='WS'"}],"mark":{"type":"rule","color":"#2040ff","strokeWidth":1},"encoding":{"x2":{"field":"x2"}}},
    {"data":{"name":"n"},"transform":[{"filter":"datum.p=='L'"}],"mark":{"type":"rule","color":"#999999","strokeWidth":0.8},"encoding":{"x2":{"field":"x2"}}},
    {"data":{"name":"nl"},"transform":[{"filter":"datum.p=='L'"}],"mark":{"type":"text","fontSize":7,"color":"#ffffff","stroke":"#ffffff","strokeWidth":6},"encoding":{"text":{"field":"t"}}},
    {"data":{"name":"nl"},"transform":[{"filter":"datum.p=='L'"}],"mark":{"type":"text","fontSize":7,"color":"#222222"},"encoding":{"text":{"field":"t"}}},
    {"data":{"name":"g"},"transform":[{"filter":"datum.p=='L'"}],"mark":{"type":"line","color":"#111111","strokeWidth":1},"encoding":{}},
    {"data":{"name":"g"},"transform":[{"filter":"datum.p=='L'"}],"mark":{"type":"point","shape":"square","filled":true,"size":7,"color":"#000000","opacity":1},"encoding":{}},
    {"data":{"name":"b"},"transform":[{"filter":"datum.p=='L'"}],"mark":{"type":"point","filled":true,"size":26,"opacity":1,"strokeWidth":1},"encoding":{"color":{"field":"s","type":"nominal","scale":{"domain":["EG PF 1","WS PF 1","Crit PF 1","Ground","Bank Sta"],"range":["#8f9f8f","#2040ff","#ff2020","#000000","#ee1133"]},"legend":{"title":"Legend"}},"stroke":{"field":"s","type":"nominal","scale":{"domain":["EG PF 1","WS PF 1","Crit PF 1","Ground","Bank Sta"],"range":["#8f9f8f","#2040ff","#ff2020","#000000","#ee1133"]},"legend":{"title":"Legend"}},"shape":{"field":"s","type":"nominal","scale":{"domain":["EG PF 1","WS PF 1","Crit PF 1","Ground","Bank Sta"],"range":["stroke","stroke","stroke","circle","circle"]},"legend":{"title":"Legend"}}}}
   ]}
 ], "spacing": 12, "resolve": {"scale": {"color": "independent", "stroke": "independent", "shape": "independent"}}},
 {"vconcat": [
  {"width":634,"height":305,"title":{"text":"8500 Glendale2","subtitle":["Geom: Camino Arroyo 3\u00a0\u00a0\u00a0\u00a0Flow: 1046 cfs","River = CaminoCenterline\u00a0\u00a0\u00a0Reach = CaminoCenterline\u00a0\u00a0\u00a0\u00a0\u00a0\u00a0RS = 442.75"]},
   "encoding":{"x":{"field":"x","type":"quantitative","scale":{"domain":[0,180],"nice":false,"zero":false},"axis":{"title":"Station (ft)","values":[0,20,40,60,80,100,120,140,160,180]}},"y":{"field":"y","type":"quantitative","scale":{"domain":[5496,5508],"nice":false,"zero":false},"axis":{"title":"Elevation (ft)","values":[5496,5498,5500,5502,5504,5506,5508],"format":"d"}}},
   "layer":[
    {"data":{"name":"w"},"transform":[{"filter":"datum.p=='M'"}],"mark":{"type":"area","color":"#00ffff","opacity":1},"encoding":{"y2":{"field":"g"}}},
    {"data":{"name":"lv"},"transform":[{"filter":"datum.p=='M'&&datum.k=='EG'"}],"mark":{"type":"rule","color":"#8f9f8f","strokeWidth":1.3},"encoding":{"x2":{"field":"x2"}}},
    {"data":{"name":"lv"},"transform":[{"filter":"datum.p=='M'&&datum.k=='WS'"}],"mark":{"type":"rule","color":"#2040ff","strokeWidth":1},"encoding":{"x2":{"field":"x2"}}},
    {"data":{"name":"n"},"transform":[{"filter":"datum.p=='M'"}],"mark":{"type":"rule","color":"#999999","strokeWidth":0.8},"encoding":{"x2":{"field":"x2"}}},
    {"data":{"name":"nl"},"transform":[{"filter":"datum.p=='M'"}],"mark":{"type":"text","fontSize":7,"color":"#ffffff","stroke":"#ffffff","strokeWidth":6},"encoding":{"text":{"field":"t"}}},
    {"data":{"name":"nl"},"transform":[{"filter":"datum.p=='M'"}],"mark":{"type":"text","fontSize":7,"color":"#222222"},"encoding":{"text":{"field":"t"}}},
    {"data":{"name":"g"},"transform":[{"filter":"datum.p=='M'"}],"mark":{"type":"line","color":"#111111","strokeWidth":1},"encoding":{}},
    {"data":{"name":"g"},"transform":[{"filter":"datum.p=='M'"}],"mark":{"type":"point","shape":"square","filled":true,"size":7,"color":"#000000","opacity":1},"encoding":{}},
    {"data":{"name":"b"},"transform":[{"filter":"datum.p=='M'"}],"mark":{"type":"point","filled":true,"size":26,"opacity":1,"strokeWidth":1},"encoding":{"color":{"field":"s","type":"nominal","scale":{"domain":["EG PF 1","WS PF 1","Crit PF 1","Ground","Bank Sta"],"range":["#8f9f8f","#2040ff","#ff2020","#000000","#ee1133"]},"legend":{"title":"Legend"}},"stroke":{"field":"s","type":"nominal","scale":{"domain":["EG PF 1","WS PF 1","Crit PF 1","Ground","Bank Sta"],"range":["#8f9f8f","#2040ff","#ff2020","#000000","#ee1133"]},"legend":{"title":"Legend"}},"shape":{"field":"s","type":"nominal","scale":{"domain":["EG PF 1","WS PF 1","Crit PF 1","Ground","Bank Sta"],"range":["stroke","stroke","stroke","circle","circle"]},"legend":{"title":"Legend"}}}}
   ]},
  {"width":634,"height":305,"title":{"text":"8500 Glendale2","subtitle":["Geom: Camino Arroyo 3\u00a0\u00a0\u00a0\u00a0Flow: 1046 cfs","River = CaminoCenterline\u00a0\u00a0\u00a0Reach = CaminoCenterline\u00a0\u00a0\u00a0\u00a0\u00a0\u00a0RS = 405.15"]},
   "encoding":{"x":{"field":"x","type":"quantitative","scale":{"domain":[0,180],"nice":false,"zero":false},"axis":{"title":"Station (ft)","values":[0,20,40,60,80,100,120,140,160,180]}},"y":{"field":"y","type":"quantitative","scale":{"domain":[5496,5506],"nice":false,"zero":false},"axis":{"title":"Elevation (ft)","values":[5496,5498,5500,5502,5504,5506],"format":"d"}}},
   "layer":[
    {"data":{"name":"w"},"transform":[{"filter":"datum.p=='N'"}],"mark":{"type":"area","color":"#00ffff","opacity":1},"encoding":{"y2":{"field":"g"}}},
    {"data":{"name":"lv"},"transform":[{"filter":"datum.p=='N'&&datum.k=='EG'"}],"mark":{"type":"rule","color":"#8f9f8f","strokeWidth":1.3},"encoding":{"x2":{"field":"x2"}}},
    {"data":{"name":"lv"},"transform":[{"filter":"datum.p=='N'&&datum.k=='WS'"}],"mark":{"type":"rule","color":"#2040ff","strokeWidth":1},"encoding":{"x2":{"field":"x2"}}},
    {"data":{"name":"n"},"transform":[{"filter":"datum.p=='N'"}],"mark":{"type":"rule","color":"#999999","strokeWidth":0.8},"encoding":{"x2":{"field":"x2"}}},
    {"data":{"name":"nl"},"transform":[{"filter":"datum.p=='N'"}],"mark":{"type":"text","fontSize":7,"color":"#ffffff","stroke":"#ffffff","strokeWidth":6},"encoding":{"text":{"field":"t"}}},
    {"data":{"name":"nl"},"transform":[{"filter":"datum.p=='N'"}],"mark":{"type":"text","fontSize":7,"color":"#222222"},"encoding":{"text":{"field":"t"}}},
    {"data":{"name":"g"},"transform":[{"filter":"datum.p=='N'"}],"mark":{"type":"line","color":"#111111","strokeWidth":1},"encoding":{}},
    {"data":{"name":"g"},"transform":[{"filter":"datum.p=='N'"}],"mark":{"type":"point","shape":"square","filled":true,"size":7,"color":"#000000","opacity":1},"encoding":{}},
    {"data":{"name":"b"},"transform":[{"filter":"datum.p=='N'"}],"mark":{"type":"point","filled":true,"size":26,"opacity":1,"strokeWidth":1},"encoding":{"color":{"field":"s","type":"nominal","scale":{"domain":["EG PF 1","WS PF 1","Crit PF 1","Ground","Bank Sta"],"range":["#8f9f8f","#2040ff","#ff2020","#000000","#ee1133"]},"legend":{"title":"Legend"}},"stroke":{"field":"s","type":"nominal","scale":{"domain":["EG PF 1","WS PF 1","Crit PF 1","Ground","Bank Sta"],"range":["#8f9f8f","#2040ff","#ff2020","#000000","#ee1133"]},"legend":{"title":"Legend"}},"shape":{"field":"s","type":"nominal","scale":{"domain":["EG PF 1","WS PF 1","Crit PF 1","Ground","Bank Sta"],"range":["stroke","stroke","stroke","circle","circle"]},"legend":{"title":"Legend"}}}}
   ]},
  {"width":634,"height":305,"title":{"text":"8500 Glendale2","subtitle":["Geom: Camino Arroyo 3\u00a0\u00a0\u00a0\u00a0Flow: 1046 cfs","River = CaminoCenterline\u00a0\u00a0\u00a0Reach = CaminoCenterline\u00a0\u00a0\u00a0\u00a0\u00a0\u00a0RS = 363.18"]},
   "encoding":{"x":{"field":"x","type":"quantitative","scale":{"domain":[0,180],"nice":false,"zero":false},"axis":{"title":"Station (ft)","values":[0,20,40,60,80,100,120,140,160,180]}},"y":{"field":"y","type":"quantitative","scale":{"domain":[5494,5506],"nice":false,"zero":false},"axis":{"title":"Elevation (ft)","values":[5494,5496,5498,5500,5502,5504,5506],"format":"d"}}},
   "layer":[
    {"data":{"name":"w"},"transform":[{"filter":"datum.p=='O'"}],"mark":{"type":"area","color":"#00ffff","opacity":1},"encoding":{"y2":{"field":"g"}}},
    {"data":{"name":"lv"},"transform":[{"filter":"datum.p=='O'&&datum.k=='EG'"}],"mark":{"type":"rule","color":"#8f9f8f","strokeWidth":1.3},"encoding":{"x2":{"field":"x2"}}},
    {"data":{"name":"lv"},"transform":[{"filter":"datum.p=='O'&&datum.k=='WS'"}],"mark":{"type":"rule","color":"#2040ff","strokeWidth":1},"encoding":{"x2":{"field":"x2"}}},
    {"data":{"name":"n"},"transform":[{"filter":"datum.p=='O'"}],"mark":{"type":"rule","color":"#999999","strokeWidth":0.8},"encoding":{"x2":{"field":"x2"}}},
    {"data":{"name":"nl"},"transform":[{"filter":"datum.p=='O'"}],"mark":{"type":"text","fontSize":7,"color":"#ffffff","stroke":"#ffffff","strokeWidth":6},"encoding":{"text":{"field":"t"}}},
    {"data":{"name":"nl"},"transform":[{"filter":"datum.p=='O'"}],"mark":{"type":"text","fontSize":7,"color":"#222222"},"encoding":{"text":{"field":"t"}}},
    {"data":{"name":"g"},"transform":[{"filter":"datum.p=='O'"}],"mark":{"type":"line","color":"#111111","strokeWidth":1},"encoding":{}},
    {"data":{"name":"g"},"transform":[{"filter":"datum.p=='O'"}],"mark":{"type":"point","shape":"square","filled":true,"size":7,"color":"#000000","opacity":1},"encoding":{}},
    {"data":{"name":"b"},"transform":[{"filter":"datum.p=='O'"}],"mark":{"type":"point","filled":true,"size":26,"opacity":1,"strokeWidth":1},"encoding":{"color":{"field":"s","type":"nominal","scale":{"domain":["EG PF 1","WS PF 1","Crit PF 1","Ground","Bank Sta"],"range":["#8f9f8f","#2040ff","#ff2020","#000000","#ee1133"]},"legend":{"title":"Legend"}},"stroke":{"field":"s","type":"nominal","scale":{"domain":["EG PF 1","WS PF 1","Crit PF 1","Ground","Bank Sta"],"range":["#8f9f8f","#2040ff","#ff2020","#000000","#ee1133"]},"legend":{"title":"Legend"}},"shape":{"field":"s","type":"nominal","scale":{"domain":["EG PF 1","WS PF 1","Crit PF 1","Ground","Bank Sta"],"range":["stroke","stroke","stroke","circle","circle"]},"legend":{"title":"Legend"}}}}
   ]}
 ], "spacing": 12, "resolve": {"scale": {"color": "independent", "stroke": "independent", "shape": "independent"}}}
], "spacing": 78, "resolve": {"scale": {"color": "independent", "stroke": "independent", "shape": "independent"}}}
]
}
